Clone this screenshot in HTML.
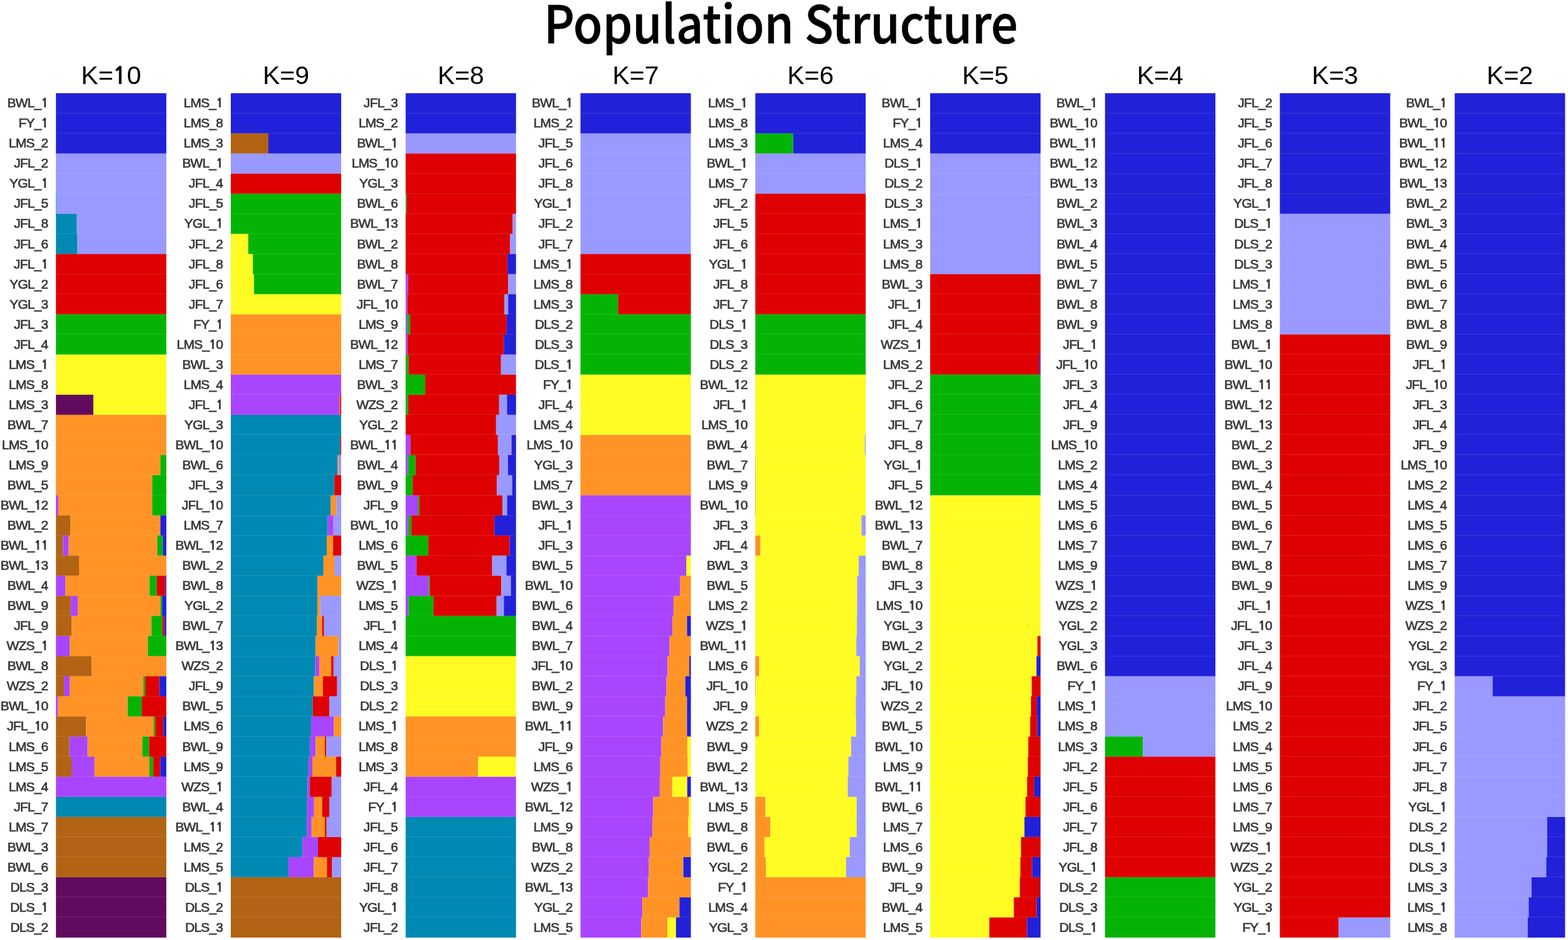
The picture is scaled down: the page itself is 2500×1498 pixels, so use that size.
<!DOCTYPE html><html><head><meta charset="utf-8"><title>Population Structure</title><style>html,body{margin:0;padding:0;background:#fff;width:2500px;height:1498px;overflow:hidden}svg{display:block}.l{font-family:"Liberation Sans",Arial,sans-serif;font-size:21px;fill:#383838;letter-spacing:-0.85px;stroke:#383838;stroke-width:0.7px}.o{font-family:NanumGothic, 'Liberation Sans', sans-serif;font-weight:bold;font-size:0.93em}.o2{font-family:NanumGothic, 'Liberation Sans', sans-serif;font-weight:bold;font-size:0.93em}.k{font-family:"Liberation Sans",Arial,sans-serif;font-size:41px;fill:#000;letter-spacing:0px}.t{font-family:"Noto Sans CJK SC", sans-serif;font-size:83px;font-weight:500;fill:#000;letter-spacing:0px;stroke:#000;stroke-width:0.7px}</style></head><body><svg width="2500" height="1498" viewBox="0 0 2500 1498"><text class="t" x="1245" y="68.8" text-anchor="middle" textLength="756" lengthAdjust="spacingAndGlyphs">Population Structure</text><text class="k" x="177.2" y="133.8" text-anchor="middle">K=<tspan class="o2" dx="-1.5">1</tspan>0</text><g><rect x="89.2" y="148.5" width="176" height="33.04" fill="#2121D9"/><rect x="89.2" y="180.54" width="176" height="33.04" fill="#2121D9"/><rect x="89.2" y="212.58" width="176" height="33.04" fill="#2121D9"/><rect x="89.2" y="244.62" width="176" height="33.04" fill="#9999FF"/><rect x="89.2" y="276.66" width="176" height="33.04" fill="#9999FF"/><rect x="89.2" y="308.7" width="1.06" height="33.04" fill="#0089B2"/><rect x="90.26" y="308.7" width="174.94" height="33.04" fill="#9999FF"/><rect x="89.2" y="340.74" width="33.44" height="33.04" fill="#0089B2"/><rect x="122.64" y="340.74" width="142.56" height="33.04" fill="#9999FF"/><rect x="89.2" y="372.78" width="34.32" height="33.04" fill="#0089B2"/><rect x="123.52" y="372.78" width="141.68" height="33.04" fill="#9999FF"/><rect x="89.2" y="404.82" width="176" height="33.04" fill="#DF0101"/><rect x="89.2" y="436.86" width="176" height="33.04" fill="#DF0101"/><rect x="89.2" y="468.9" width="176" height="33.04" fill="#DF0101"/><rect x="89.2" y="500.94" width="176" height="33.04" fill="#04B404"/><rect x="89.2" y="532.98" width="176" height="33.04" fill="#04B404"/><rect x="89.2" y="565.02" width="176" height="33.04" fill="#FFFB23"/><rect x="89.2" y="597.06" width="176" height="33.04" fill="#FFFB23"/><rect x="89.2" y="629.1" width="59.66" height="33.04" fill="#610B5E"/><rect x="148.86" y="629.1" width="116.34" height="33.04" fill="#FFFB23"/><rect x="89.2" y="661.14" width="176" height="33.04" fill="#FF9326"/><rect x="89.2" y="693.18" width="176" height="33.04" fill="#FF9326"/><rect x="89.2" y="725.22" width="166.5" height="33.04" fill="#FF9326"/><rect x="255.7" y="725.22" width="9.5" height="33.04" fill="#04B404"/><rect x="89.2" y="757.26" width="153.65" height="33.04" fill="#FF9326"/><rect x="242.85" y="757.26" width="22.35" height="33.04" fill="#04B404"/><rect x="89.2" y="789.3" width="3.7" height="33.04" fill="#A945FF"/><rect x="92.9" y="789.3" width="149.95" height="33.04" fill="#FF9326"/><rect x="242.85" y="789.3" width="22.35" height="33.04" fill="#04B404"/><rect x="89.2" y="821.34" width="22.88" height="33.04" fill="#B26314"/><rect x="112.08" y="821.34" width="143.62" height="33.04" fill="#FF9326"/><rect x="255.7" y="821.34" width="9.5" height="33.04" fill="#2121D9"/><rect x="89.2" y="853.38" width="11.26" height="33.04" fill="#B26314"/><rect x="100.46" y="853.38" width="9.15" height="33.04" fill="#A945FF"/><rect x="109.62" y="853.38" width="141.15" height="33.04" fill="#FF9326"/><rect x="250.77" y="853.38" width="8.8" height="33.04" fill="#04B404"/><rect x="259.57" y="853.38" width="5.63" height="33.04" fill="#2121D9"/><rect x="89.2" y="885.42" width="36.78" height="33.04" fill="#B26314"/><rect x="125.98" y="885.42" width="139.22" height="33.04" fill="#FF9326"/><rect x="89.2" y="917.46" width="14.96" height="33.04" fill="#A945FF"/><rect x="104.16" y="917.46" width="134.29" height="33.04" fill="#FF9326"/><rect x="238.45" y="917.46" width="11.26" height="33.04" fill="#04B404"/><rect x="249.71" y="917.46" width="13.73" height="33.04" fill="#DF0101"/><rect x="263.44" y="917.46" width="1.76" height="33.04" fill="#2121D9"/><rect x="89.2" y="949.5" width="23.58" height="33.04" fill="#B26314"/><rect x="112.78" y="949.5" width="11.09" height="33.04" fill="#A945FF"/><rect x="123.87" y="949.5" width="132" height="33.04" fill="#FF9326"/><rect x="255.87" y="949.5" width="2.46" height="33.04" fill="#04B404"/><rect x="258.34" y="949.5" width="6.86" height="33.04" fill="#2121D9"/><rect x="89.2" y="981.54" width="25.17" height="33.04" fill="#B26314"/><rect x="114.37" y="981.54" width="127.07" height="33.04" fill="#FF9326"/><rect x="241.44" y="981.54" width="17.42" height="33.04" fill="#04B404"/><rect x="258.86" y="981.54" width="3.34" height="33.04" fill="#DF0101"/><rect x="262.21" y="981.54" width="2.99" height="33.04" fill="#2121D9"/><rect x="89.2" y="1013.58" width="22" height="33.04" fill="#A945FF"/><rect x="111.2" y="1013.58" width="124.61" height="33.04" fill="#FF9326"/><rect x="235.81" y="1013.58" width="29.39" height="33.04" fill="#04B404"/><rect x="89.2" y="1045.62" width="56.67" height="33.04" fill="#B26314"/><rect x="145.87" y="1045.62" width="119.33" height="33.04" fill="#FF9326"/><rect x="89.2" y="1077.66" width="12.85" height="33.04" fill="#B26314"/><rect x="102.05" y="1077.66" width="9.15" height="33.04" fill="#A945FF"/><rect x="111.2" y="1077.66" width="117.22" height="33.04" fill="#FF9326"/><rect x="228.42" y="1077.66" width="2.99" height="33.04" fill="#04B404"/><rect x="231.41" y="1077.66" width="22.88" height="33.04" fill="#DF0101"/><rect x="254.29" y="1077.66" width="10.91" height="33.04" fill="#2121D9"/><rect x="89.2" y="1109.7" width="3.34" height="33.04" fill="#A945FF"/><rect x="92.54" y="1109.7" width="111.06" height="33.04" fill="#FF9326"/><rect x="203.6" y="1109.7" width="22.35" height="33.04" fill="#04B404"/><rect x="225.95" y="1109.7" width="39.25" height="33.04" fill="#DF0101"/><rect x="89.2" y="1141.74" width="48.05" height="33.04" fill="#B26314"/><rect x="137.25" y="1141.74" width="107.71" height="33.04" fill="#FF9326"/><rect x="244.96" y="1141.74" width="2.46" height="33.04" fill="#04B404"/><rect x="247.42" y="1141.74" width="12.85" height="33.04" fill="#DF0101"/><rect x="260.27" y="1141.74" width="4.93" height="33.04" fill="#2121D9"/><rect x="89.2" y="1173.78" width="21.47" height="33.04" fill="#B26314"/><rect x="110.67" y="1173.78" width="29.04" height="33.04" fill="#A945FF"/><rect x="139.71" y="1173.78" width="87.47" height="33.04" fill="#FF9326"/><rect x="227.18" y="1173.78" width="10.38" height="33.04" fill="#04B404"/><rect x="237.57" y="1173.78" width="27.63" height="33.04" fill="#DF0101"/><rect x="89.2" y="1205.82" width="24.82" height="33.04" fill="#B26314"/><rect x="114.02" y="1205.82" width="36.78" height="33.04" fill="#A945FF"/><rect x="150.8" y="1205.82" width="87.3" height="33.04" fill="#FF9326"/><rect x="238.1" y="1205.82" width="6.16" height="33.04" fill="#04B404"/><rect x="244.26" y="1205.82" width="11.26" height="33.04" fill="#DF0101"/><rect x="255.52" y="1205.82" width="9.68" height="33.04" fill="#2121D9"/><rect x="89.2" y="1237.86" width="176" height="33.04" fill="#A945FF"/><rect x="89.2" y="1269.9" width="176" height="33.04" fill="#0089B2"/><rect x="89.2" y="1301.94" width="176" height="33.04" fill="#B26314"/><rect x="89.2" y="1333.98" width="176" height="33.04" fill="#B26314"/><rect x="89.2" y="1366.02" width="176" height="33.04" fill="#B26314"/><rect x="89.2" y="1398.06" width="176" height="33.04" fill="#610B5E"/><rect x="89.2" y="1430.1" width="176" height="33.04" fill="#610B5E"/><rect x="89.2" y="1462.14" width="176" height="32.04" fill="#610B5E"/><rect x="89.2" y="180" width="176" height="1" fill="#fff" fill-opacity="0.12"/><rect x="89.2" y="212" width="176" height="1" fill="#fff" fill-opacity="0.12"/><rect x="89.2" y="244" width="176" height="1" fill="#fff" fill-opacity="0.12"/><rect x="89.2" y="276" width="176" height="1" fill="#fff" fill-opacity="0.12"/><rect x="89.2" y="308" width="176" height="1" fill="#fff" fill-opacity="0.12"/><rect x="89.2" y="340" width="176" height="1" fill="#fff" fill-opacity="0.12"/><rect x="89.2" y="372" width="176" height="1" fill="#fff" fill-opacity="0.12"/><rect x="89.2" y="404" width="176" height="1" fill="#fff" fill-opacity="0.12"/><rect x="89.2" y="436" width="176" height="1" fill="#fff" fill-opacity="0.12"/><rect x="89.2" y="468" width="176" height="1" fill="#fff" fill-opacity="0.12"/><rect x="89.2" y="500" width="176" height="1" fill="#fff" fill-opacity="0.12"/><rect x="89.2" y="532" width="176" height="1" fill="#fff" fill-opacity="0.12"/><rect x="89.2" y="564" width="176" height="1" fill="#fff" fill-opacity="0.12"/><rect x="89.2" y="596" width="176" height="1" fill="#fff" fill-opacity="0.12"/><rect x="89.2" y="628" width="176" height="1" fill="#fff" fill-opacity="0.12"/><rect x="89.2" y="660" width="176" height="1" fill="#fff" fill-opacity="0.12"/><rect x="89.2" y="692" width="176" height="1" fill="#fff" fill-opacity="0.12"/><rect x="89.2" y="724" width="176" height="1" fill="#fff" fill-opacity="0.12"/><rect x="89.2" y="756" width="176" height="1" fill="#fff" fill-opacity="0.12"/><rect x="89.2" y="789" width="176" height="1" fill="#fff" fill-opacity="0.12"/><rect x="89.2" y="821" width="176" height="1" fill="#fff" fill-opacity="0.12"/><rect x="89.2" y="853" width="176" height="1" fill="#fff" fill-opacity="0.12"/><rect x="89.2" y="885" width="176" height="1" fill="#fff" fill-opacity="0.12"/><rect x="89.2" y="917" width="176" height="1" fill="#fff" fill-opacity="0.12"/><rect x="89.2" y="949" width="176" height="1" fill="#fff" fill-opacity="0.12"/><rect x="89.2" y="981" width="176" height="1" fill="#fff" fill-opacity="0.12"/><rect x="89.2" y="1013" width="176" height="1" fill="#fff" fill-opacity="0.12"/><rect x="89.2" y="1045" width="176" height="1" fill="#fff" fill-opacity="0.12"/><rect x="89.2" y="1077" width="176" height="1" fill="#fff" fill-opacity="0.12"/><rect x="89.2" y="1109" width="176" height="1" fill="#fff" fill-opacity="0.12"/><rect x="89.2" y="1141" width="176" height="1" fill="#fff" fill-opacity="0.12"/><rect x="89.2" y="1173" width="176" height="1" fill="#fff" fill-opacity="0.12"/><rect x="89.2" y="1205" width="176" height="1" fill="#fff" fill-opacity="0.12"/><rect x="89.2" y="1237" width="176" height="1" fill="#fff" fill-opacity="0.12"/><rect x="89.2" y="1269" width="176" height="1" fill="#fff" fill-opacity="0.12"/><rect x="89.2" y="1301" width="176" height="1" fill="#fff" fill-opacity="0.12"/><rect x="89.2" y="1333" width="176" height="1" fill="#fff" fill-opacity="0.12"/><rect x="89.2" y="1365" width="176" height="1" fill="#fff" fill-opacity="0.12"/><rect x="89.2" y="1397" width="176" height="1" fill="#fff" fill-opacity="0.12"/><rect x="89.2" y="1429" width="176" height="1" fill="#fff" fill-opacity="0.12"/><rect x="89.2" y="1461" width="176" height="1" fill="#fff" fill-opacity="0.12"/></g><text class="l" x="76.4" y="171.22" text-anchor="end">BWL_<tspan class="o">1</tspan></text><text class="l" x="76.4" y="203.26" text-anchor="end">FY_<tspan class="o">1</tspan></text><text class="l" x="76.4" y="235.3" text-anchor="end">LMS_2</text><text class="l" x="76.4" y="267.34" text-anchor="end">JFL_2</text><text class="l" x="76.4" y="299.38" text-anchor="end">YGL_<tspan class="o">1</tspan></text><text class="l" x="76.4" y="331.42" text-anchor="end">JFL_5</text><text class="l" x="76.4" y="363.46" text-anchor="end">JFL_8</text><text class="l" x="76.4" y="395.5" text-anchor="end">JFL_6</text><text class="l" x="76.4" y="427.54" text-anchor="end">JFL_<tspan class="o">1</tspan></text><text class="l" x="76.4" y="459.58" text-anchor="end">YGL_2</text><text class="l" x="76.4" y="491.62" text-anchor="end">YGL_3</text><text class="l" x="76.4" y="523.66" text-anchor="end">JFL_3</text><text class="l" x="76.4" y="555.7" text-anchor="end">JFL_4</text><text class="l" x="76.4" y="587.74" text-anchor="end">LMS_<tspan class="o">1</tspan></text><text class="l" x="76.4" y="619.78" text-anchor="end">LMS_8</text><text class="l" x="76.4" y="651.82" text-anchor="end">LMS_3</text><text class="l" x="76.4" y="683.86" text-anchor="end">BWL_7</text><text class="l" x="76.4" y="715.9" text-anchor="end">LMS_<tspan class="o">1</tspan>0</text><text class="l" x="76.4" y="747.94" text-anchor="end">LMS_9</text><text class="l" x="76.4" y="779.98" text-anchor="end">BWL_5</text><text class="l" x="76.4" y="812.02" text-anchor="end">BWL_<tspan class="o">1</tspan>2</text><text class="l" x="76.4" y="844.06" text-anchor="end">BWL_2</text><text class="l" x="76.4" y="876.1" text-anchor="end">BWL_<tspan class="o">1</tspan><tspan class="o">1</tspan></text><text class="l" x="76.4" y="908.14" text-anchor="end">BWL_<tspan class="o">1</tspan>3</text><text class="l" x="76.4" y="940.18" text-anchor="end">BWL_4</text><text class="l" x="76.4" y="972.22" text-anchor="end">BWL_9</text><text class="l" x="76.4" y="1004.26" text-anchor="end">JFL_9</text><text class="l" x="76.4" y="1036.3" text-anchor="end">WZS_<tspan class="o">1</tspan></text><text class="l" x="76.4" y="1068.34" text-anchor="end">BWL_8</text><text class="l" x="76.4" y="1100.38" text-anchor="end">WZS_2</text><text class="l" x="76.4" y="1132.42" text-anchor="end">BWL_<tspan class="o">1</tspan>0</text><text class="l" x="76.4" y="1164.46" text-anchor="end">JFL_<tspan class="o">1</tspan>0</text><text class="l" x="76.4" y="1196.5" text-anchor="end">LMS_6</text><text class="l" x="76.4" y="1228.54" text-anchor="end">LMS_5</text><text class="l" x="76.4" y="1260.58" text-anchor="end">LMS_4</text><text class="l" x="76.4" y="1292.62" text-anchor="end">JFL_7</text><text class="l" x="76.4" y="1324.66" text-anchor="end">LMS_7</text><text class="l" x="76.4" y="1356.7" text-anchor="end">BWL_3</text><text class="l" x="76.4" y="1388.74" text-anchor="end">BWL_6</text><text class="l" x="76.4" y="1420.78" text-anchor="end">DLS_3</text><text class="l" x="76.4" y="1452.82" text-anchor="end">DLS_<tspan class="o">1</tspan></text><text class="l" x="76.4" y="1484.86" text-anchor="end">DLS_2</text><text class="k" x="455.97" y="133.8" text-anchor="middle">K=9</text><g><rect x="367.97" y="148.5" width="176" height="33.04" fill="#2121D9"/><rect x="367.97" y="180.54" width="176" height="33.04" fill="#2121D9"/><rect x="367.97" y="212.58" width="60.02" height="33.04" fill="#B26314"/><rect x="427.99" y="212.58" width="115.98" height="33.04" fill="#2121D9"/><rect x="367.97" y="244.62" width="176" height="33.04" fill="#9999FF"/><rect x="367.97" y="276.66" width="176" height="33.04" fill="#DF0101"/><rect x="367.97" y="308.7" width="176" height="33.04" fill="#04B404"/><rect x="367.97" y="340.74" width="176" height="33.04" fill="#04B404"/><rect x="367.97" y="372.78" width="27.81" height="33.04" fill="#FFFB23"/><rect x="395.78" y="372.78" width="148.19" height="33.04" fill="#04B404"/><rect x="367.97" y="404.82" width="35.2" height="33.04" fill="#FFFB23"/><rect x="403.17" y="404.82" width="140.8" height="33.04" fill="#04B404"/><rect x="367.97" y="436.86" width="36.96" height="33.04" fill="#FFFB23"/><rect x="404.93" y="436.86" width="139.04" height="33.04" fill="#04B404"/><rect x="367.97" y="468.9" width="176" height="33.04" fill="#FFFB23"/><rect x="367.97" y="500.94" width="176" height="33.04" fill="#FF9326"/><rect x="367.97" y="532.98" width="176" height="33.04" fill="#FF9326"/><rect x="367.97" y="565.02" width="176" height="33.04" fill="#FF9326"/><rect x="367.97" y="597.06" width="176" height="33.04" fill="#A945FF"/><rect x="367.97" y="629.1" width="173.01" height="33.04" fill="#A945FF"/><rect x="540.98" y="629.1" width="1.23" height="33.04" fill="#FF9326"/><rect x="542.21" y="629.1" width="1.76" height="33.04" fill="#DF0101"/><rect x="367.97" y="661.14" width="176" height="33.04" fill="#0089B2"/><rect x="367.97" y="693.18" width="174.77" height="33.04" fill="#0089B2"/><rect x="542.74" y="693.18" width="1.23" height="33.04" fill="#DF0101"/><rect x="367.97" y="725.22" width="170.19" height="33.04" fill="#0089B2"/><rect x="538.16" y="725.22" width="1.76" height="33.04" fill="#FF9326"/><rect x="539.92" y="725.22" width="4.05" height="33.04" fill="#9999FF"/><rect x="367.97" y="757.26" width="165.26" height="33.04" fill="#0089B2"/><rect x="533.23" y="757.26" width="10.74" height="33.04" fill="#DF0101"/><rect x="367.97" y="789.3" width="159.46" height="33.04" fill="#0089B2"/><rect x="527.43" y="789.3" width="9.15" height="33.04" fill="#FF9326"/><rect x="536.58" y="789.3" width="7.39" height="33.04" fill="#9999FF"/><rect x="367.97" y="821.34" width="154.53" height="33.04" fill="#0089B2"/><rect x="522.5" y="821.34" width="9.15" height="33.04" fill="#A945FF"/><rect x="531.65" y="821.34" width="12.32" height="33.04" fill="#9999FF"/><rect x="367.97" y="853.38" width="153.12" height="33.04" fill="#0089B2"/><rect x="521.09" y="853.38" width="10.03" height="33.04" fill="#FF9326"/><rect x="531.12" y="853.38" width="12.85" height="33.04" fill="#DF0101"/><rect x="367.97" y="885.42" width="147.84" height="33.04" fill="#0089B2"/><rect x="515.81" y="885.42" width="17.42" height="33.04" fill="#FF9326"/><rect x="533.23" y="885.42" width="10.74" height="33.04" fill="#9999FF"/><rect x="367.97" y="917.46" width="137.98" height="33.04" fill="#0089B2"/><rect x="505.95" y="917.46" width="38.02" height="33.04" fill="#FF9326"/><rect x="367.97" y="949.5" width="137.98" height="33.04" fill="#0089B2"/><rect x="505.95" y="949.5" width="4.58" height="33.04" fill="#FF9326"/><rect x="510.53" y="949.5" width="33.44" height="33.04" fill="#9999FF"/><rect x="367.97" y="981.54" width="137.1" height="33.04" fill="#0089B2"/><rect x="505.07" y="981.54" width="8.62" height="33.04" fill="#FF9326"/><rect x="513.7" y="981.54" width="2.99" height="33.04" fill="#DF0101"/><rect x="516.69" y="981.54" width="27.28" height="33.04" fill="#9999FF"/><rect x="367.97" y="1013.58" width="135.34" height="33.04" fill="#0089B2"/><rect x="503.31" y="1013.58" width="36.43" height="33.04" fill="#FF9326"/><rect x="539.75" y="1013.58" width="4.22" height="33.04" fill="#9999FF"/><rect x="367.97" y="1045.62" width="134.64" height="33.04" fill="#0089B2"/><rect x="502.61" y="1045.62" width="6.51" height="33.04" fill="#A945FF"/><rect x="509.12" y="1045.62" width="19.01" height="33.04" fill="#FF9326"/><rect x="528.13" y="1045.62" width="3.7" height="33.04" fill="#DF0101"/><rect x="531.83" y="1045.62" width="12.14" height="33.04" fill="#9999FF"/><rect x="367.97" y="1077.66" width="132.53" height="33.04" fill="#0089B2"/><rect x="500.5" y="1077.66" width="14.43" height="33.04" fill="#FF9326"/><rect x="514.93" y="1077.66" width="22.7" height="33.04" fill="#DF0101"/><rect x="537.63" y="1077.66" width="6.34" height="33.04" fill="#9999FF"/><rect x="367.97" y="1109.7" width="130.77" height="33.04" fill="#0089B2"/><rect x="498.74" y="1109.7" width="26.58" height="33.04" fill="#DF0101"/><rect x="525.31" y="1109.7" width="18.66" height="33.04" fill="#9999FF"/><rect x="367.97" y="1141.74" width="127.95" height="33.04" fill="#0089B2"/><rect x="495.92" y="1141.74" width="36.43" height="33.04" fill="#A945FF"/><rect x="532.35" y="1141.74" width="11.62" height="33.04" fill="#FF9326"/><rect x="367.97" y="1173.78" width="126.19" height="33.04" fill="#0089B2"/><rect x="494.16" y="1173.78" width="9.15" height="33.04" fill="#A945FF"/><rect x="503.31" y="1173.78" width="14.61" height="33.04" fill="#FF9326"/><rect x="517.92" y="1173.78" width="2.46" height="33.04" fill="#DF0101"/><rect x="520.39" y="1173.78" width="23.58" height="33.04" fill="#9999FF"/><rect x="367.97" y="1205.82" width="123.9" height="33.04" fill="#0089B2"/><rect x="491.87" y="1205.82" width="6.16" height="33.04" fill="#A945FF"/><rect x="498.03" y="1205.82" width="38.02" height="33.04" fill="#FF9326"/><rect x="536.05" y="1205.82" width="7.92" height="33.04" fill="#DF0101"/><rect x="367.97" y="1237.86" width="122.5" height="33.04" fill="#0089B2"/><rect x="490.47" y="1237.86" width="3.7" height="33.04" fill="#A945FF"/><rect x="494.16" y="1237.86" width="34.67" height="33.04" fill="#DF0101"/><rect x="528.83" y="1237.86" width="15.14" height="33.04" fill="#9999FF"/><rect x="367.97" y="1269.9" width="121.79" height="33.04" fill="#0089B2"/><rect x="489.76" y="1269.9" width="11.09" height="33.04" fill="#A945FF"/><rect x="500.85" y="1269.9" width="12.85" height="33.04" fill="#FF9326"/><rect x="513.7" y="1269.9" width="11.26" height="33.04" fill="#DF0101"/><rect x="524.96" y="1269.9" width="19.01" height="33.04" fill="#9999FF"/><rect x="367.97" y="1301.94" width="121.26" height="33.04" fill="#0089B2"/><rect x="489.23" y="1301.94" width="7.57" height="33.04" fill="#A945FF"/><rect x="496.8" y="1301.94" width="21.12" height="33.04" fill="#FF9326"/><rect x="517.92" y="1301.94" width="2.82" height="33.04" fill="#DF0101"/><rect x="520.74" y="1301.94" width="23.23" height="33.04" fill="#9999FF"/><rect x="367.97" y="1333.98" width="114.22" height="33.04" fill="#0089B2"/><rect x="482.19" y="1333.98" width="24.82" height="33.04" fill="#A945FF"/><rect x="507.01" y="1333.98" width="36.96" height="33.04" fill="#DF0101"/><rect x="367.97" y="1366.02" width="91.87" height="33.04" fill="#0089B2"/><rect x="459.84" y="1366.02" width="40.66" height="33.04" fill="#A945FF"/><rect x="500.5" y="1366.02" width="20.77" height="33.04" fill="#FF9326"/><rect x="521.27" y="1366.02" width="8.27" height="33.04" fill="#DF0101"/><rect x="529.54" y="1366.02" width="14.43" height="33.04" fill="#9999FF"/><rect x="367.97" y="1398.06" width="176" height="33.04" fill="#B26314"/><rect x="367.97" y="1430.1" width="176" height="33.04" fill="#B26314"/><rect x="367.97" y="1462.14" width="176" height="32.04" fill="#B26314"/><rect x="367.97" y="180" width="176" height="1" fill="#fff" fill-opacity="0.12"/><rect x="367.97" y="212" width="176" height="1" fill="#fff" fill-opacity="0.12"/><rect x="367.97" y="244" width="176" height="1" fill="#fff" fill-opacity="0.12"/><rect x="367.97" y="276" width="176" height="1" fill="#fff" fill-opacity="0.12"/><rect x="367.97" y="308" width="176" height="1" fill="#fff" fill-opacity="0.12"/><rect x="367.97" y="340" width="176" height="1" fill="#fff" fill-opacity="0.12"/><rect x="367.97" y="372" width="176" height="1" fill="#fff" fill-opacity="0.12"/><rect x="367.97" y="404" width="176" height="1" fill="#fff" fill-opacity="0.12"/><rect x="367.97" y="436" width="176" height="1" fill="#fff" fill-opacity="0.12"/><rect x="367.97" y="468" width="176" height="1" fill="#fff" fill-opacity="0.12"/><rect x="367.97" y="500" width="176" height="1" fill="#fff" fill-opacity="0.12"/><rect x="367.97" y="532" width="176" height="1" fill="#fff" fill-opacity="0.12"/><rect x="367.97" y="564" width="176" height="1" fill="#fff" fill-opacity="0.12"/><rect x="367.97" y="596" width="176" height="1" fill="#fff" fill-opacity="0.12"/><rect x="367.97" y="628" width="176" height="1" fill="#fff" fill-opacity="0.12"/><rect x="367.97" y="660" width="176" height="1" fill="#fff" fill-opacity="0.12"/><rect x="367.97" y="692" width="176" height="1" fill="#fff" fill-opacity="0.12"/><rect x="367.97" y="724" width="176" height="1" fill="#fff" fill-opacity="0.12"/><rect x="367.97" y="756" width="176" height="1" fill="#fff" fill-opacity="0.12"/><rect x="367.97" y="789" width="176" height="1" fill="#fff" fill-opacity="0.12"/><rect x="367.97" y="821" width="176" height="1" fill="#fff" fill-opacity="0.12"/><rect x="367.97" y="853" width="176" height="1" fill="#fff" fill-opacity="0.12"/><rect x="367.97" y="885" width="176" height="1" fill="#fff" fill-opacity="0.12"/><rect x="367.97" y="917" width="176" height="1" fill="#fff" fill-opacity="0.12"/><rect x="367.97" y="949" width="176" height="1" fill="#fff" fill-opacity="0.12"/><rect x="367.97" y="981" width="176" height="1" fill="#fff" fill-opacity="0.12"/><rect x="367.97" y="1013" width="176" height="1" fill="#fff" fill-opacity="0.12"/><rect x="367.97" y="1045" width="176" height="1" fill="#fff" fill-opacity="0.12"/><rect x="367.97" y="1077" width="176" height="1" fill="#fff" fill-opacity="0.12"/><rect x="367.97" y="1109" width="176" height="1" fill="#fff" fill-opacity="0.12"/><rect x="367.97" y="1141" width="176" height="1" fill="#fff" fill-opacity="0.12"/><rect x="367.97" y="1173" width="176" height="1" fill="#fff" fill-opacity="0.12"/><rect x="367.97" y="1205" width="176" height="1" fill="#fff" fill-opacity="0.12"/><rect x="367.97" y="1237" width="176" height="1" fill="#fff" fill-opacity="0.12"/><rect x="367.97" y="1269" width="176" height="1" fill="#fff" fill-opacity="0.12"/><rect x="367.97" y="1301" width="176" height="1" fill="#fff" fill-opacity="0.12"/><rect x="367.97" y="1333" width="176" height="1" fill="#fff" fill-opacity="0.12"/><rect x="367.97" y="1365" width="176" height="1" fill="#fff" fill-opacity="0.12"/><rect x="367.97" y="1397" width="176" height="1" fill="#fff" fill-opacity="0.12"/><rect x="367.97" y="1429" width="176" height="1" fill="#fff" fill-opacity="0.12"/><rect x="367.97" y="1461" width="176" height="1" fill="#fff" fill-opacity="0.12"/></g><text class="l" x="355.17" y="171.22" text-anchor="end">LMS_<tspan class="o">1</tspan></text><text class="l" x="355.17" y="203.26" text-anchor="end">LMS_8</text><text class="l" x="355.17" y="235.3" text-anchor="end">LMS_3</text><text class="l" x="355.17" y="267.34" text-anchor="end">BWL_<tspan class="o">1</tspan></text><text class="l" x="355.17" y="299.38" text-anchor="end">JFL_4</text><text class="l" x="355.17" y="331.42" text-anchor="end">JFL_5</text><text class="l" x="355.17" y="363.46" text-anchor="end">YGL_<tspan class="o">1</tspan></text><text class="l" x="355.17" y="395.5" text-anchor="end">JFL_2</text><text class="l" x="355.17" y="427.54" text-anchor="end">JFL_8</text><text class="l" x="355.17" y="459.58" text-anchor="end">JFL_6</text><text class="l" x="355.17" y="491.62" text-anchor="end">JFL_7</text><text class="l" x="355.17" y="523.66" text-anchor="end">FY_<tspan class="o">1</tspan></text><text class="l" x="355.17" y="555.7" text-anchor="end">LMS_<tspan class="o">1</tspan>0</text><text class="l" x="355.17" y="587.74" text-anchor="end">BWL_3</text><text class="l" x="355.17" y="619.78" text-anchor="end">LMS_4</text><text class="l" x="355.17" y="651.82" text-anchor="end">JFL_<tspan class="o">1</tspan></text><text class="l" x="355.17" y="683.86" text-anchor="end">YGL_3</text><text class="l" x="355.17" y="715.9" text-anchor="end">BWL_<tspan class="o">1</tspan>0</text><text class="l" x="355.17" y="747.94" text-anchor="end">BWL_6</text><text class="l" x="355.17" y="779.98" text-anchor="end">JFL_3</text><text class="l" x="355.17" y="812.02" text-anchor="end">JFL_<tspan class="o">1</tspan>0</text><text class="l" x="355.17" y="844.06" text-anchor="end">LMS_7</text><text class="l" x="355.17" y="876.1" text-anchor="end">BWL_<tspan class="o">1</tspan>2</text><text class="l" x="355.17" y="908.14" text-anchor="end">BWL_2</text><text class="l" x="355.17" y="940.18" text-anchor="end">BWL_8</text><text class="l" x="355.17" y="972.22" text-anchor="end">YGL_2</text><text class="l" x="355.17" y="1004.26" text-anchor="end">BWL_7</text><text class="l" x="355.17" y="1036.3" text-anchor="end">BWL_<tspan class="o">1</tspan>3</text><text class="l" x="355.17" y="1068.34" text-anchor="end">WZS_2</text><text class="l" x="355.17" y="1100.38" text-anchor="end">JFL_9</text><text class="l" x="355.17" y="1132.42" text-anchor="end">BWL_5</text><text class="l" x="355.17" y="1164.46" text-anchor="end">LMS_6</text><text class="l" x="355.17" y="1196.5" text-anchor="end">BWL_9</text><text class="l" x="355.17" y="1228.54" text-anchor="end">LMS_9</text><text class="l" x="355.17" y="1260.58" text-anchor="end">WZS_<tspan class="o">1</tspan></text><text class="l" x="355.17" y="1292.62" text-anchor="end">BWL_4</text><text class="l" x="355.17" y="1324.66" text-anchor="end">BWL_<tspan class="o">1</tspan><tspan class="o">1</tspan></text><text class="l" x="355.17" y="1356.7" text-anchor="end">LMS_2</text><text class="l" x="355.17" y="1388.74" text-anchor="end">LMS_5</text><text class="l" x="355.17" y="1420.78" text-anchor="end">DLS_<tspan class="o">1</tspan></text><text class="l" x="355.17" y="1452.82" text-anchor="end">DLS_2</text><text class="l" x="355.17" y="1484.86" text-anchor="end">DLS_3</text><text class="k" x="734.74" y="133.8" text-anchor="middle">K=8</text><g><rect x="646.74" y="148.5" width="176" height="33.04" fill="#2121D9"/><rect x="646.74" y="180.54" width="176" height="33.04" fill="#2121D9"/><rect x="646.74" y="212.58" width="176" height="33.04" fill="#9999FF"/><rect x="646.74" y="244.62" width="176" height="33.04" fill="#DF0101"/><rect x="646.74" y="276.66" width="176" height="33.04" fill="#DF0101"/><rect x="646.74" y="308.7" width="1.58" height="33.04" fill="#04B404"/><rect x="648.32" y="308.7" width="174.42" height="33.04" fill="#DF0101"/><rect x="646.74" y="340.74" width="170.72" height="33.04" fill="#DF0101"/><rect x="817.46" y="340.74" width="5.28" height="33.04" fill="#9999FF"/><rect x="646.74" y="372.78" width="166.5" height="33.04" fill="#DF0101"/><rect x="813.24" y="372.78" width="9.5" height="33.04" fill="#9999FF"/><rect x="646.74" y="404.82" width="162.45" height="33.04" fill="#DF0101"/><rect x="809.19" y="404.82" width="13.55" height="33.04" fill="#2121D9"/><rect x="646.74" y="436.86" width="4.05" height="33.04" fill="#A945FF"/><rect x="650.79" y="436.86" width="159.46" height="33.04" fill="#DF0101"/><rect x="810.24" y="436.86" width="12.5" height="33.04" fill="#9999FF"/><rect x="646.74" y="468.9" width="2.82" height="33.04" fill="#A945FF"/><rect x="649.56" y="468.9" width="154.53" height="33.04" fill="#DF0101"/><rect x="804.08" y="468.9" width="6.16" height="33.04" fill="#9999FF"/><rect x="810.24" y="468.9" width="12.5" height="33.04" fill="#2121D9"/><rect x="646.74" y="500.94" width="2.46" height="33.04" fill="#A945FF"/><rect x="649.2" y="500.94" width="4.58" height="33.04" fill="#04B404"/><rect x="653.78" y="500.94" width="154" height="33.04" fill="#DF0101"/><rect x="807.78" y="500.94" width="14.96" height="33.04" fill="#2121D9"/><rect x="646.74" y="532.98" width="2.99" height="33.04" fill="#A945FF"/><rect x="649.73" y="532.98" width="153.65" height="33.04" fill="#DF0101"/><rect x="803.38" y="532.98" width="19.36" height="33.04" fill="#2121D9"/><rect x="646.74" y="565.02" width="4.58" height="33.04" fill="#04B404"/><rect x="651.32" y="565.02" width="147.49" height="33.04" fill="#DF0101"/><rect x="798.8" y="565.02" width="23.94" height="33.04" fill="#9999FF"/><rect x="646.74" y="597.06" width="31.15" height="33.04" fill="#04B404"/><rect x="677.89" y="597.06" width="144.85" height="33.04" fill="#DF0101"/><rect x="646.74" y="629.1" width="4.05" height="33.04" fill="#04B404"/><rect x="650.79" y="629.1" width="145.02" height="33.04" fill="#DF0101"/><rect x="795.81" y="629.1" width="12.5" height="33.04" fill="#9999FF"/><rect x="808.31" y="629.1" width="14.43" height="33.04" fill="#2121D9"/><rect x="646.74" y="661.14" width="144.14" height="33.04" fill="#DF0101"/><rect x="790.88" y="661.14" width="31.86" height="33.04" fill="#9999FF"/><rect x="646.74" y="693.18" width="7.57" height="33.04" fill="#A945FF"/><rect x="654.31" y="693.18" width="139.57" height="33.04" fill="#DF0101"/><rect x="793.88" y="693.18" width="21.65" height="33.04" fill="#9999FF"/><rect x="815.52" y="693.18" width="7.22" height="33.04" fill="#2121D9"/><rect x="646.74" y="725.22" width="3.7" height="33.04" fill="#A945FF"/><rect x="650.44" y="725.22" width="11.97" height="33.04" fill="#04B404"/><rect x="662.4" y="725.22" width="133.76" height="33.04" fill="#DF0101"/><rect x="796.16" y="725.22" width="13.73" height="33.04" fill="#9999FF"/><rect x="809.89" y="725.22" width="12.85" height="33.04" fill="#2121D9"/><rect x="646.74" y="757.26" width="11.09" height="33.04" fill="#04B404"/><rect x="657.83" y="757.26" width="134.29" height="33.04" fill="#DF0101"/><rect x="792.12" y="757.26" width="24.46" height="33.04" fill="#9999FF"/><rect x="816.58" y="757.26" width="6.16" height="33.04" fill="#2121D9"/><rect x="646.74" y="789.3" width="19.36" height="33.04" fill="#A945FF"/><rect x="666.1" y="789.3" width="2.46" height="33.04" fill="#04B404"/><rect x="668.56" y="789.3" width="132.53" height="33.04" fill="#DF0101"/><rect x="801.09" y="789.3" width="7.39" height="33.04" fill="#9999FF"/><rect x="808.48" y="789.3" width="14.26" height="33.04" fill="#2121D9"/><rect x="646.74" y="821.34" width="4.05" height="33.04" fill="#A945FF"/><rect x="650.79" y="821.34" width="4.93" height="33.04" fill="#04B404"/><rect x="655.72" y="821.34" width="132.53" height="33.04" fill="#DF0101"/><rect x="788.24" y="821.34" width="34.5" height="33.04" fill="#2121D9"/><rect x="646.74" y="853.38" width="36.08" height="33.04" fill="#04B404"/><rect x="682.82" y="853.38" width="129.71" height="33.04" fill="#DF0101"/><rect x="812.53" y="853.38" width="10.21" height="33.04" fill="#2121D9"/><rect x="646.74" y="885.42" width="17.42" height="33.04" fill="#A945FF"/><rect x="664.16" y="885.42" width="120.56" height="33.04" fill="#DF0101"/><rect x="784.72" y="885.42" width="22.7" height="33.04" fill="#9999FF"/><rect x="807.43" y="885.42" width="15.31" height="33.04" fill="#2121D9"/><rect x="646.74" y="917.46" width="36.78" height="33.04" fill="#A945FF"/><rect x="683.52" y="917.46" width="1.76" height="33.04" fill="#04B404"/><rect x="685.28" y="917.46" width="113.87" height="33.04" fill="#DF0101"/><rect x="799.16" y="917.46" width="15.31" height="33.04" fill="#9999FF"/><rect x="814.47" y="917.46" width="8.27" height="33.04" fill="#2121D9"/><rect x="646.74" y="949.5" width="4.58" height="33.04" fill="#A945FF"/><rect x="651.32" y="949.5" width="39.78" height="33.04" fill="#04B404"/><rect x="691.09" y="949.5" width="100.67" height="33.04" fill="#DF0101"/><rect x="791.76" y="949.5" width="11.62" height="33.04" fill="#9999FF"/><rect x="803.38" y="949.5" width="19.36" height="33.04" fill="#2121D9"/><rect x="646.74" y="981.54" width="176" height="33.04" fill="#04B404"/><rect x="646.74" y="1013.58" width="176" height="33.04" fill="#04B404"/><rect x="646.74" y="1045.62" width="176" height="33.04" fill="#FFFB23"/><rect x="646.74" y="1077.66" width="176" height="33.04" fill="#FFFB23"/><rect x="646.74" y="1109.7" width="176" height="33.04" fill="#FFFB23"/><rect x="646.74" y="1141.74" width="176" height="33.04" fill="#FF9326"/><rect x="646.74" y="1173.78" width="176" height="33.04" fill="#FF9326"/><rect x="646.74" y="1205.82" width="115.63" height="33.04" fill="#FF9326"/><rect x="762.37" y="1205.82" width="60.37" height="33.04" fill="#FFFB23"/><rect x="646.74" y="1237.86" width="176" height="33.04" fill="#A945FF"/><rect x="646.74" y="1269.9" width="176" height="33.04" fill="#A945FF"/><rect x="646.74" y="1301.94" width="176" height="33.04" fill="#0089B2"/><rect x="646.74" y="1333.98" width="176" height="33.04" fill="#0089B2"/><rect x="646.74" y="1366.02" width="176" height="33.04" fill="#0089B2"/><rect x="646.74" y="1398.06" width="176" height="33.04" fill="#0089B2"/><rect x="646.74" y="1430.1" width="176" height="33.04" fill="#0089B2"/><rect x="646.74" y="1462.14" width="176" height="32.04" fill="#0089B2"/><rect x="646.74" y="180" width="176" height="1" fill="#fff" fill-opacity="0.12"/><rect x="646.74" y="212" width="176" height="1" fill="#fff" fill-opacity="0.12"/><rect x="646.74" y="244" width="176" height="1" fill="#fff" fill-opacity="0.12"/><rect x="646.74" y="276" width="176" height="1" fill="#fff" fill-opacity="0.12"/><rect x="646.74" y="308" width="176" height="1" fill="#fff" fill-opacity="0.12"/><rect x="646.74" y="340" width="176" height="1" fill="#fff" fill-opacity="0.12"/><rect x="646.74" y="372" width="176" height="1" fill="#fff" fill-opacity="0.12"/><rect x="646.74" y="404" width="176" height="1" fill="#fff" fill-opacity="0.12"/><rect x="646.74" y="436" width="176" height="1" fill="#fff" fill-opacity="0.12"/><rect x="646.74" y="468" width="176" height="1" fill="#fff" fill-opacity="0.12"/><rect x="646.74" y="500" width="176" height="1" fill="#fff" fill-opacity="0.12"/><rect x="646.74" y="532" width="176" height="1" fill="#fff" fill-opacity="0.12"/><rect x="646.74" y="564" width="176" height="1" fill="#fff" fill-opacity="0.12"/><rect x="646.74" y="596" width="176" height="1" fill="#fff" fill-opacity="0.12"/><rect x="646.74" y="628" width="176" height="1" fill="#fff" fill-opacity="0.12"/><rect x="646.74" y="660" width="176" height="1" fill="#fff" fill-opacity="0.12"/><rect x="646.74" y="692" width="176" height="1" fill="#fff" fill-opacity="0.12"/><rect x="646.74" y="724" width="176" height="1" fill="#fff" fill-opacity="0.12"/><rect x="646.74" y="756" width="176" height="1" fill="#fff" fill-opacity="0.12"/><rect x="646.74" y="789" width="176" height="1" fill="#fff" fill-opacity="0.12"/><rect x="646.74" y="821" width="176" height="1" fill="#fff" fill-opacity="0.12"/><rect x="646.74" y="853" width="176" height="1" fill="#fff" fill-opacity="0.12"/><rect x="646.74" y="885" width="176" height="1" fill="#fff" fill-opacity="0.12"/><rect x="646.74" y="917" width="176" height="1" fill="#fff" fill-opacity="0.12"/><rect x="646.74" y="949" width="176" height="1" fill="#fff" fill-opacity="0.12"/><rect x="646.74" y="981" width="176" height="1" fill="#fff" fill-opacity="0.12"/><rect x="646.74" y="1013" width="176" height="1" fill="#fff" fill-opacity="0.12"/><rect x="646.74" y="1045" width="176" height="1" fill="#fff" fill-opacity="0.12"/><rect x="646.74" y="1077" width="176" height="1" fill="#fff" fill-opacity="0.12"/><rect x="646.74" y="1109" width="176" height="1" fill="#fff" fill-opacity="0.12"/><rect x="646.74" y="1141" width="176" height="1" fill="#fff" fill-opacity="0.12"/><rect x="646.74" y="1173" width="176" height="1" fill="#fff" fill-opacity="0.12"/><rect x="646.74" y="1205" width="176" height="1" fill="#fff" fill-opacity="0.12"/><rect x="646.74" y="1237" width="176" height="1" fill="#fff" fill-opacity="0.12"/><rect x="646.74" y="1269" width="176" height="1" fill="#fff" fill-opacity="0.12"/><rect x="646.74" y="1301" width="176" height="1" fill="#fff" fill-opacity="0.12"/><rect x="646.74" y="1333" width="176" height="1" fill="#fff" fill-opacity="0.12"/><rect x="646.74" y="1365" width="176" height="1" fill="#fff" fill-opacity="0.12"/><rect x="646.74" y="1397" width="176" height="1" fill="#fff" fill-opacity="0.12"/><rect x="646.74" y="1429" width="176" height="1" fill="#fff" fill-opacity="0.12"/><rect x="646.74" y="1461" width="176" height="1" fill="#fff" fill-opacity="0.12"/></g><text class="l" x="633.94" y="171.22" text-anchor="end">JFL_3</text><text class="l" x="633.94" y="203.26" text-anchor="end">LMS_2</text><text class="l" x="633.94" y="235.3" text-anchor="end">BWL_<tspan class="o">1</tspan></text><text class="l" x="633.94" y="267.34" text-anchor="end">LMS_<tspan class="o">1</tspan>0</text><text class="l" x="633.94" y="299.38" text-anchor="end">YGL_3</text><text class="l" x="633.94" y="331.42" text-anchor="end">BWL_6</text><text class="l" x="633.94" y="363.46" text-anchor="end">BWL_<tspan class="o">1</tspan>3</text><text class="l" x="633.94" y="395.5" text-anchor="end">BWL_2</text><text class="l" x="633.94" y="427.54" text-anchor="end">BWL_8</text><text class="l" x="633.94" y="459.58" text-anchor="end">BWL_7</text><text class="l" x="633.94" y="491.62" text-anchor="end">JFL_<tspan class="o">1</tspan>0</text><text class="l" x="633.94" y="523.66" text-anchor="end">LMS_9</text><text class="l" x="633.94" y="555.7" text-anchor="end">BWL_<tspan class="o">1</tspan>2</text><text class="l" x="633.94" y="587.74" text-anchor="end">LMS_7</text><text class="l" x="633.94" y="619.78" text-anchor="end">BWL_3</text><text class="l" x="633.94" y="651.82" text-anchor="end">WZS_2</text><text class="l" x="633.94" y="683.86" text-anchor="end">YGL_2</text><text class="l" x="633.94" y="715.9" text-anchor="end">BWL_<tspan class="o">1</tspan><tspan class="o">1</tspan></text><text class="l" x="633.94" y="747.94" text-anchor="end">BWL_4</text><text class="l" x="633.94" y="779.98" text-anchor="end">BWL_9</text><text class="l" x="633.94" y="812.02" text-anchor="end">JFL_9</text><text class="l" x="633.94" y="844.06" text-anchor="end">BWL_<tspan class="o">1</tspan>0</text><text class="l" x="633.94" y="876.1" text-anchor="end">LMS_6</text><text class="l" x="633.94" y="908.14" text-anchor="end">BWL_5</text><text class="l" x="633.94" y="940.18" text-anchor="end">WZS_<tspan class="o">1</tspan></text><text class="l" x="633.94" y="972.22" text-anchor="end">LMS_5</text><text class="l" x="633.94" y="1004.26" text-anchor="end">JFL_<tspan class="o">1</tspan></text><text class="l" x="633.94" y="1036.3" text-anchor="end">LMS_4</text><text class="l" x="633.94" y="1068.34" text-anchor="end">DLS_<tspan class="o">1</tspan></text><text class="l" x="633.94" y="1100.38" text-anchor="end">DLS_3</text><text class="l" x="633.94" y="1132.42" text-anchor="end">DLS_2</text><text class="l" x="633.94" y="1164.46" text-anchor="end">LMS_<tspan class="o">1</tspan></text><text class="l" x="633.94" y="1196.5" text-anchor="end">LMS_8</text><text class="l" x="633.94" y="1228.54" text-anchor="end">LMS_3</text><text class="l" x="633.94" y="1260.58" text-anchor="end">JFL_4</text><text class="l" x="633.94" y="1292.62" text-anchor="end">FY_<tspan class="o">1</tspan></text><text class="l" x="633.94" y="1324.66" text-anchor="end">JFL_5</text><text class="l" x="633.94" y="1356.7" text-anchor="end">JFL_6</text><text class="l" x="633.94" y="1388.74" text-anchor="end">JFL_7</text><text class="l" x="633.94" y="1420.78" text-anchor="end">JFL_8</text><text class="l" x="633.94" y="1452.82" text-anchor="end">YGL_<tspan class="o">1</tspan></text><text class="l" x="633.94" y="1484.86" text-anchor="end">JFL_2</text><text class="k" x="1013.51" y="133.8" text-anchor="middle">K=7</text><g><rect x="925.51" y="148.5" width="176" height="33.04" fill="#2121D9"/><rect x="925.51" y="180.54" width="176" height="33.04" fill="#2121D9"/><rect x="925.51" y="212.58" width="176" height="33.04" fill="#9999FF"/><rect x="925.51" y="244.62" width="176" height="33.04" fill="#9999FF"/><rect x="925.51" y="276.66" width="176" height="33.04" fill="#9999FF"/><rect x="925.51" y="308.7" width="176" height="33.04" fill="#9999FF"/><rect x="925.51" y="340.74" width="176" height="33.04" fill="#9999FF"/><rect x="925.51" y="372.78" width="176" height="33.04" fill="#9999FF"/><rect x="925.51" y="404.82" width="176" height="33.04" fill="#DF0101"/><rect x="925.51" y="436.86" width="176" height="33.04" fill="#DF0101"/><rect x="925.51" y="468.9" width="59.84" height="33.04" fill="#04B404"/><rect x="985.35" y="468.9" width="116.16" height="33.04" fill="#DF0101"/><rect x="925.51" y="500.94" width="176" height="33.04" fill="#04B404"/><rect x="925.51" y="532.98" width="176" height="33.04" fill="#04B404"/><rect x="925.51" y="565.02" width="176" height="33.04" fill="#04B404"/><rect x="925.51" y="597.06" width="176" height="33.04" fill="#FFFB23"/><rect x="925.51" y="629.1" width="176" height="33.04" fill="#FFFB23"/><rect x="925.51" y="661.14" width="176" height="33.04" fill="#FFFB23"/><rect x="925.51" y="693.18" width="176" height="33.04" fill="#FF9326"/><rect x="925.51" y="725.22" width="176" height="33.04" fill="#FF9326"/><rect x="925.51" y="757.26" width="176" height="33.04" fill="#FF9326"/><rect x="925.51" y="789.3" width="176" height="33.04" fill="#A945FF"/><rect x="925.51" y="821.34" width="176" height="33.04" fill="#A945FF"/><rect x="925.51" y="853.38" width="176" height="33.04" fill="#A945FF"/><rect x="925.51" y="885.42" width="168.96" height="33.04" fill="#A945FF"/><rect x="1094.47" y="885.42" width="7.04" height="33.04" fill="#FFFB23"/><rect x="925.51" y="917.46" width="159.1" height="33.04" fill="#A945FF"/><rect x="1084.61" y="917.46" width="16.9" height="33.04" fill="#FF9326"/><rect x="925.51" y="949.5" width="148.37" height="33.04" fill="#A945FF"/><rect x="1073.88" y="949.5" width="27.63" height="33.04" fill="#FF9326"/><rect x="925.51" y="981.54" width="146.61" height="33.04" fill="#A945FF"/><rect x="1072.12" y="981.54" width="23.23" height="33.04" fill="#FF9326"/><rect x="1095.35" y="981.54" width="6.16" height="33.04" fill="#2121D9"/><rect x="925.51" y="1013.58" width="142.03" height="33.04" fill="#A945FF"/><rect x="1067.54" y="1013.58" width="33.97" height="33.04" fill="#FF9326"/><rect x="925.51" y="1045.62" width="138.86" height="33.04" fill="#A945FF"/><rect x="1064.37" y="1045.62" width="34.67" height="33.04" fill="#FF9326"/><rect x="1099.05" y="1045.62" width="2.46" height="33.04" fill="#2121D9"/><rect x="925.51" y="1077.66" width="137.1" height="33.04" fill="#A945FF"/><rect x="1062.61" y="1077.66" width="30.1" height="33.04" fill="#FF9326"/><rect x="1092.71" y="1077.66" width="8.8" height="33.04" fill="#2121D9"/><rect x="925.51" y="1109.7" width="135.17" height="33.04" fill="#A945FF"/><rect x="1060.68" y="1109.7" width="34.67" height="33.04" fill="#FF9326"/><rect x="1095.35" y="1109.7" width="6.16" height="33.04" fill="#2121D9"/><rect x="925.51" y="1141.74" width="131.82" height="33.04" fill="#A945FF"/><rect x="1057.33" y="1141.74" width="38.02" height="33.04" fill="#FF9326"/><rect x="1095.35" y="1141.74" width="6.16" height="33.04" fill="#2121D9"/><rect x="925.51" y="1173.78" width="129.01" height="33.04" fill="#A945FF"/><rect x="1054.52" y="1173.78" width="41.36" height="33.04" fill="#FF9326"/><rect x="1095.88" y="1173.78" width="5.63" height="33.04" fill="#FFFB23"/><rect x="925.51" y="1205.82" width="127.25" height="33.04" fill="#A945FF"/><rect x="1052.76" y="1205.82" width="43.82" height="33.04" fill="#FF9326"/><rect x="1096.58" y="1205.82" width="4.93" height="33.04" fill="#FFFB23"/><rect x="925.51" y="1237.86" width="126.37" height="33.04" fill="#A945FF"/><rect x="1051.88" y="1237.86" width="19.89" height="33.04" fill="#FF9326"/><rect x="1071.77" y="1237.86" width="23.94" height="33.04" fill="#FFFB23"/><rect x="1095.7" y="1237.86" width="5.81" height="33.04" fill="#2121D9"/><rect x="925.51" y="1269.9" width="115.98" height="33.04" fill="#A945FF"/><rect x="1041.49" y="1269.9" width="56.5" height="33.04" fill="#FF9326"/><rect x="1097.99" y="1269.9" width="3.52" height="33.04" fill="#FFFB23"/><rect x="925.51" y="1301.94" width="114.75" height="33.04" fill="#A945FF"/><rect x="1040.26" y="1301.94" width="57.02" height="33.04" fill="#FF9326"/><rect x="1097.29" y="1301.94" width="4.22" height="33.04" fill="#FFFB23"/><rect x="925.51" y="1333.98" width="110.35" height="33.04" fill="#A945FF"/><rect x="1035.86" y="1333.98" width="65.65" height="33.04" fill="#FF9326"/><rect x="925.51" y="1366.02" width="109.12" height="33.04" fill="#A945FF"/><rect x="1034.63" y="1366.02" width="54.91" height="33.04" fill="#FF9326"/><rect x="1089.54" y="1366.02" width="11.97" height="33.04" fill="#2121D9"/><rect x="925.51" y="1398.06" width="107.89" height="33.04" fill="#A945FF"/><rect x="1033.4" y="1398.06" width="68.11" height="33.04" fill="#FF9326"/><rect x="925.51" y="1430.1" width="98.74" height="33.04" fill="#A945FF"/><rect x="1024.25" y="1430.1" width="59.14" height="33.04" fill="#FF9326"/><rect x="1083.38" y="1430.1" width="18.13" height="33.04" fill="#2121D9"/><rect x="925.51" y="1462.14" width="96.98" height="32.04" fill="#A945FF"/><rect x="1022.49" y="1462.14" width="41.71" height="32.04" fill="#FF9326"/><rect x="1064.2" y="1462.14" width="13.55" height="32.04" fill="#FFFB23"/><rect x="1077.75" y="1462.14" width="23.76" height="32.04" fill="#2121D9"/><rect x="925.51" y="180" width="176" height="1" fill="#fff" fill-opacity="0.12"/><rect x="925.51" y="212" width="176" height="1" fill="#fff" fill-opacity="0.12"/><rect x="925.51" y="244" width="176" height="1" fill="#fff" fill-opacity="0.12"/><rect x="925.51" y="276" width="176" height="1" fill="#fff" fill-opacity="0.12"/><rect x="925.51" y="308" width="176" height="1" fill="#fff" fill-opacity="0.12"/><rect x="925.51" y="340" width="176" height="1" fill="#fff" fill-opacity="0.12"/><rect x="925.51" y="372" width="176" height="1" fill="#fff" fill-opacity="0.12"/><rect x="925.51" y="404" width="176" height="1" fill="#fff" fill-opacity="0.12"/><rect x="925.51" y="436" width="176" height="1" fill="#fff" fill-opacity="0.12"/><rect x="925.51" y="468" width="176" height="1" fill="#fff" fill-opacity="0.12"/><rect x="925.51" y="500" width="176" height="1" fill="#fff" fill-opacity="0.12"/><rect x="925.51" y="532" width="176" height="1" fill="#fff" fill-opacity="0.12"/><rect x="925.51" y="564" width="176" height="1" fill="#fff" fill-opacity="0.12"/><rect x="925.51" y="596" width="176" height="1" fill="#fff" fill-opacity="0.12"/><rect x="925.51" y="628" width="176" height="1" fill="#fff" fill-opacity="0.12"/><rect x="925.51" y="660" width="176" height="1" fill="#fff" fill-opacity="0.12"/><rect x="925.51" y="692" width="176" height="1" fill="#fff" fill-opacity="0.12"/><rect x="925.51" y="724" width="176" height="1" fill="#fff" fill-opacity="0.12"/><rect x="925.51" y="756" width="176" height="1" fill="#fff" fill-opacity="0.12"/><rect x="925.51" y="789" width="176" height="1" fill="#fff" fill-opacity="0.12"/><rect x="925.51" y="821" width="176" height="1" fill="#fff" fill-opacity="0.12"/><rect x="925.51" y="853" width="176" height="1" fill="#fff" fill-opacity="0.12"/><rect x="925.51" y="885" width="176" height="1" fill="#fff" fill-opacity="0.12"/><rect x="925.51" y="917" width="176" height="1" fill="#fff" fill-opacity="0.12"/><rect x="925.51" y="949" width="176" height="1" fill="#fff" fill-opacity="0.12"/><rect x="925.51" y="981" width="176" height="1" fill="#fff" fill-opacity="0.12"/><rect x="925.51" y="1013" width="176" height="1" fill="#fff" fill-opacity="0.12"/><rect x="925.51" y="1045" width="176" height="1" fill="#fff" fill-opacity="0.12"/><rect x="925.51" y="1077" width="176" height="1" fill="#fff" fill-opacity="0.12"/><rect x="925.51" y="1109" width="176" height="1" fill="#fff" fill-opacity="0.12"/><rect x="925.51" y="1141" width="176" height="1" fill="#fff" fill-opacity="0.12"/><rect x="925.51" y="1173" width="176" height="1" fill="#fff" fill-opacity="0.12"/><rect x="925.51" y="1205" width="176" height="1" fill="#fff" fill-opacity="0.12"/><rect x="925.51" y="1237" width="176" height="1" fill="#fff" fill-opacity="0.12"/><rect x="925.51" y="1269" width="176" height="1" fill="#fff" fill-opacity="0.12"/><rect x="925.51" y="1301" width="176" height="1" fill="#fff" fill-opacity="0.12"/><rect x="925.51" y="1333" width="176" height="1" fill="#fff" fill-opacity="0.12"/><rect x="925.51" y="1365" width="176" height="1" fill="#fff" fill-opacity="0.12"/><rect x="925.51" y="1397" width="176" height="1" fill="#fff" fill-opacity="0.12"/><rect x="925.51" y="1429" width="176" height="1" fill="#fff" fill-opacity="0.12"/><rect x="925.51" y="1461" width="176" height="1" fill="#fff" fill-opacity="0.12"/></g><text class="l" x="912.71" y="171.22" text-anchor="end">BWL_<tspan class="o">1</tspan></text><text class="l" x="912.71" y="203.26" text-anchor="end">LMS_2</text><text class="l" x="912.71" y="235.3" text-anchor="end">JFL_5</text><text class="l" x="912.71" y="267.34" text-anchor="end">JFL_6</text><text class="l" x="912.71" y="299.38" text-anchor="end">JFL_8</text><text class="l" x="912.71" y="331.42" text-anchor="end">YGL_<tspan class="o">1</tspan></text><text class="l" x="912.71" y="363.46" text-anchor="end">JFL_2</text><text class="l" x="912.71" y="395.5" text-anchor="end">JFL_7</text><text class="l" x="912.71" y="427.54" text-anchor="end">LMS_<tspan class="o">1</tspan></text><text class="l" x="912.71" y="459.58" text-anchor="end">LMS_8</text><text class="l" x="912.71" y="491.62" text-anchor="end">LMS_3</text><text class="l" x="912.71" y="523.66" text-anchor="end">DLS_2</text><text class="l" x="912.71" y="555.7" text-anchor="end">DLS_3</text><text class="l" x="912.71" y="587.74" text-anchor="end">DLS_<tspan class="o">1</tspan></text><text class="l" x="912.71" y="619.78" text-anchor="end">FY_<tspan class="o">1</tspan></text><text class="l" x="912.71" y="651.82" text-anchor="end">JFL_4</text><text class="l" x="912.71" y="683.86" text-anchor="end">LMS_4</text><text class="l" x="912.71" y="715.9" text-anchor="end">LMS_<tspan class="o">1</tspan>0</text><text class="l" x="912.71" y="747.94" text-anchor="end">YGL_3</text><text class="l" x="912.71" y="779.98" text-anchor="end">LMS_7</text><text class="l" x="912.71" y="812.02" text-anchor="end">BWL_3</text><text class="l" x="912.71" y="844.06" text-anchor="end">JFL_<tspan class="o">1</tspan></text><text class="l" x="912.71" y="876.1" text-anchor="end">JFL_3</text><text class="l" x="912.71" y="908.14" text-anchor="end">BWL_5</text><text class="l" x="912.71" y="940.18" text-anchor="end">BWL_<tspan class="o">1</tspan>0</text><text class="l" x="912.71" y="972.22" text-anchor="end">BWL_6</text><text class="l" x="912.71" y="1004.26" text-anchor="end">BWL_4</text><text class="l" x="912.71" y="1036.3" text-anchor="end">BWL_7</text><text class="l" x="912.71" y="1068.34" text-anchor="end">JFL_<tspan class="o">1</tspan>0</text><text class="l" x="912.71" y="1100.38" text-anchor="end">BWL_2</text><text class="l" x="912.71" y="1132.42" text-anchor="end">BWL_9</text><text class="l" x="912.71" y="1164.46" text-anchor="end">BWL_<tspan class="o">1</tspan><tspan class="o">1</tspan></text><text class="l" x="912.71" y="1196.5" text-anchor="end">JFL_9</text><text class="l" x="912.71" y="1228.54" text-anchor="end">LMS_6</text><text class="l" x="912.71" y="1260.58" text-anchor="end">WZS_<tspan class="o">1</tspan></text><text class="l" x="912.71" y="1292.62" text-anchor="end">BWL_<tspan class="o">1</tspan>2</text><text class="l" x="912.71" y="1324.66" text-anchor="end">LMS_9</text><text class="l" x="912.71" y="1356.7" text-anchor="end">BWL_8</text><text class="l" x="912.71" y="1388.74" text-anchor="end">WZS_2</text><text class="l" x="912.71" y="1420.78" text-anchor="end">BWL_<tspan class="o">1</tspan>3</text><text class="l" x="912.71" y="1452.82" text-anchor="end">YGL_2</text><text class="l" x="912.71" y="1484.86" text-anchor="end">LMS_5</text><text class="k" x="1292.28" y="133.8" text-anchor="middle">K=6</text><g><rect x="1204.28" y="148.5" width="176" height="33.04" fill="#2121D9"/><rect x="1204.28" y="180.54" width="176" height="33.04" fill="#2121D9"/><rect x="1204.28" y="212.58" width="60.37" height="33.04" fill="#04B404"/><rect x="1264.65" y="212.58" width="115.63" height="33.04" fill="#2121D9"/><rect x="1204.28" y="244.62" width="176" height="33.04" fill="#9999FF"/><rect x="1204.28" y="276.66" width="176" height="33.04" fill="#9999FF"/><rect x="1204.28" y="308.7" width="176" height="33.04" fill="#DF0101"/><rect x="1204.28" y="340.74" width="176" height="33.04" fill="#DF0101"/><rect x="1204.28" y="372.78" width="176" height="33.04" fill="#DF0101"/><rect x="1204.28" y="404.82" width="176" height="33.04" fill="#DF0101"/><rect x="1204.28" y="436.86" width="176" height="33.04" fill="#DF0101"/><rect x="1204.28" y="468.9" width="176" height="33.04" fill="#DF0101"/><rect x="1204.28" y="500.94" width="176" height="33.04" fill="#04B404"/><rect x="1204.28" y="532.98" width="176" height="33.04" fill="#04B404"/><rect x="1204.28" y="565.02" width="176" height="33.04" fill="#04B404"/><rect x="1204.28" y="597.06" width="176" height="33.04" fill="#FFFB23"/><rect x="1204.28" y="629.1" width="176" height="33.04" fill="#FFFB23"/><rect x="1204.28" y="661.14" width="176" height="33.04" fill="#FFFB23"/><rect x="1204.28" y="693.18" width="174.77" height="33.04" fill="#FFFB23"/><rect x="1379.05" y="693.18" width="1.23" height="33.04" fill="#9999FF"/><rect x="1204.28" y="725.22" width="0.88" height="33.04" fill="#FF9326"/><rect x="1205.16" y="725.22" width="175.12" height="33.04" fill="#FFFB23"/><rect x="1204.28" y="757.26" width="0.7" height="33.04" fill="#FF9326"/><rect x="1204.98" y="757.26" width="175.3" height="33.04" fill="#FFFB23"/><rect x="1204.28" y="789.3" width="0.7" height="33.04" fill="#FF9326"/><rect x="1204.98" y="789.3" width="175.3" height="33.04" fill="#FFFB23"/><rect x="1204.28" y="821.34" width="169.31" height="33.04" fill="#FFFB23"/><rect x="1373.59" y="821.34" width="6.69" height="33.04" fill="#9999FF"/><rect x="1204.28" y="853.38" width="8.27" height="33.04" fill="#FF9326"/><rect x="1212.55" y="853.38" width="167.73" height="33.04" fill="#FFFB23"/><rect x="1204.28" y="885.42" width="164.91" height="33.04" fill="#FFFB23"/><rect x="1369.19" y="885.42" width="11.09" height="33.04" fill="#9999FF"/><rect x="1204.28" y="917.46" width="162.27" height="33.04" fill="#FFFB23"/><rect x="1366.55" y="917.46" width="13.73" height="33.04" fill="#9999FF"/><rect x="1204.28" y="949.5" width="162.27" height="33.04" fill="#FFFB23"/><rect x="1366.55" y="949.5" width="13.73" height="33.04" fill="#9999FF"/><rect x="1204.28" y="981.54" width="161.92" height="33.04" fill="#FFFB23"/><rect x="1366.2" y="981.54" width="14.08" height="33.04" fill="#9999FF"/><rect x="1204.28" y="1013.58" width="161.04" height="33.04" fill="#FFFB23"/><rect x="1365.32" y="1013.58" width="14.96" height="33.04" fill="#9999FF"/><rect x="1204.28" y="1045.62" width="6.16" height="33.04" fill="#FF9326"/><rect x="1210.44" y="1045.62" width="160.34" height="33.04" fill="#FFFB23"/><rect x="1370.78" y="1045.62" width="9.5" height="33.04" fill="#9999FF"/><rect x="1204.28" y="1077.66" width="0.88" height="33.04" fill="#FF9326"/><rect x="1205.16" y="1077.66" width="160.16" height="33.04" fill="#FFFB23"/><rect x="1365.32" y="1077.66" width="14.96" height="33.04" fill="#9999FF"/><rect x="1204.28" y="1109.7" width="160.16" height="33.04" fill="#FFFB23"/><rect x="1364.44" y="1109.7" width="15.84" height="33.04" fill="#9999FF"/><rect x="1204.28" y="1141.74" width="5.81" height="33.04" fill="#FF9326"/><rect x="1210.09" y="1141.74" width="154.88" height="33.04" fill="#FFFB23"/><rect x="1364.97" y="1141.74" width="15.31" height="33.04" fill="#9999FF"/><rect x="1204.28" y="1173.78" width="152.77" height="33.04" fill="#FFFB23"/><rect x="1357.05" y="1173.78" width="23.23" height="33.04" fill="#9999FF"/><rect x="1204.28" y="1205.82" width="148.37" height="33.04" fill="#FFFB23"/><rect x="1352.65" y="1205.82" width="27.63" height="33.04" fill="#9999FF"/><rect x="1204.28" y="1237.86" width="147.31" height="33.04" fill="#FFFB23"/><rect x="1351.59" y="1237.86" width="28.69" height="33.04" fill="#9999FF"/><rect x="1204.28" y="1269.9" width="16.19" height="33.04" fill="#FF9326"/><rect x="1220.47" y="1269.9" width="145.38" height="33.04" fill="#FFFB23"/><rect x="1365.85" y="1269.9" width="14.43" height="33.04" fill="#9999FF"/><rect x="1204.28" y="1301.94" width="24.11" height="33.04" fill="#FF9326"/><rect x="1228.39" y="1301.94" width="137.46" height="33.04" fill="#FFFB23"/><rect x="1365.85" y="1301.94" width="14.43" height="33.04" fill="#9999FF"/><rect x="1204.28" y="1333.98" width="14.61" height="33.04" fill="#FF9326"/><rect x="1218.89" y="1333.98" width="135.87" height="33.04" fill="#FFFB23"/><rect x="1354.76" y="1333.98" width="25.52" height="33.04" fill="#9999FF"/><rect x="1204.28" y="1366.02" width="17.07" height="33.04" fill="#FF9326"/><rect x="1221.35" y="1366.02" width="127.6" height="33.04" fill="#FFFB23"/><rect x="1348.95" y="1366.02" width="31.33" height="33.04" fill="#9999FF"/><rect x="1204.28" y="1398.06" width="176" height="33.04" fill="#FF9326"/><rect x="1204.28" y="1430.1" width="176" height="33.04" fill="#FF9326"/><rect x="1204.28" y="1462.14" width="176" height="32.04" fill="#FF9326"/><rect x="1204.28" y="180" width="176" height="1" fill="#fff" fill-opacity="0.12"/><rect x="1204.28" y="212" width="176" height="1" fill="#fff" fill-opacity="0.12"/><rect x="1204.28" y="244" width="176" height="1" fill="#fff" fill-opacity="0.12"/><rect x="1204.28" y="276" width="176" height="1" fill="#fff" fill-opacity="0.12"/><rect x="1204.28" y="308" width="176" height="1" fill="#fff" fill-opacity="0.12"/><rect x="1204.28" y="340" width="176" height="1" fill="#fff" fill-opacity="0.12"/><rect x="1204.28" y="372" width="176" height="1" fill="#fff" fill-opacity="0.12"/><rect x="1204.28" y="404" width="176" height="1" fill="#fff" fill-opacity="0.12"/><rect x="1204.28" y="436" width="176" height="1" fill="#fff" fill-opacity="0.12"/><rect x="1204.28" y="468" width="176" height="1" fill="#fff" fill-opacity="0.12"/><rect x="1204.28" y="500" width="176" height="1" fill="#fff" fill-opacity="0.12"/><rect x="1204.28" y="532" width="176" height="1" fill="#fff" fill-opacity="0.12"/><rect x="1204.28" y="564" width="176" height="1" fill="#fff" fill-opacity="0.12"/><rect x="1204.28" y="596" width="176" height="1" fill="#fff" fill-opacity="0.12"/><rect x="1204.28" y="628" width="176" height="1" fill="#fff" fill-opacity="0.12"/><rect x="1204.28" y="660" width="176" height="1" fill="#fff" fill-opacity="0.12"/><rect x="1204.28" y="692" width="176" height="1" fill="#fff" fill-opacity="0.12"/><rect x="1204.28" y="724" width="176" height="1" fill="#fff" fill-opacity="0.12"/><rect x="1204.28" y="756" width="176" height="1" fill="#fff" fill-opacity="0.12"/><rect x="1204.28" y="789" width="176" height="1" fill="#fff" fill-opacity="0.12"/><rect x="1204.28" y="821" width="176" height="1" fill="#fff" fill-opacity="0.12"/><rect x="1204.28" y="853" width="176" height="1" fill="#fff" fill-opacity="0.12"/><rect x="1204.28" y="885" width="176" height="1" fill="#fff" fill-opacity="0.12"/><rect x="1204.28" y="917" width="176" height="1" fill="#fff" fill-opacity="0.12"/><rect x="1204.28" y="949" width="176" height="1" fill="#fff" fill-opacity="0.12"/><rect x="1204.28" y="981" width="176" height="1" fill="#fff" fill-opacity="0.12"/><rect x="1204.28" y="1013" width="176" height="1" fill="#fff" fill-opacity="0.12"/><rect x="1204.28" y="1045" width="176" height="1" fill="#fff" fill-opacity="0.12"/><rect x="1204.28" y="1077" width="176" height="1" fill="#fff" fill-opacity="0.12"/><rect x="1204.28" y="1109" width="176" height="1" fill="#fff" fill-opacity="0.12"/><rect x="1204.28" y="1141" width="176" height="1" fill="#fff" fill-opacity="0.12"/><rect x="1204.28" y="1173" width="176" height="1" fill="#fff" fill-opacity="0.12"/><rect x="1204.28" y="1205" width="176" height="1" fill="#fff" fill-opacity="0.12"/><rect x="1204.28" y="1237" width="176" height="1" fill="#fff" fill-opacity="0.12"/><rect x="1204.28" y="1269" width="176" height="1" fill="#fff" fill-opacity="0.12"/><rect x="1204.28" y="1301" width="176" height="1" fill="#fff" fill-opacity="0.12"/><rect x="1204.28" y="1333" width="176" height="1" fill="#fff" fill-opacity="0.12"/><rect x="1204.28" y="1365" width="176" height="1" fill="#fff" fill-opacity="0.12"/><rect x="1204.28" y="1397" width="176" height="1" fill="#fff" fill-opacity="0.12"/><rect x="1204.28" y="1429" width="176" height="1" fill="#fff" fill-opacity="0.12"/><rect x="1204.28" y="1461" width="176" height="1" fill="#fff" fill-opacity="0.12"/></g><text class="l" x="1191.48" y="171.22" text-anchor="end">LMS_<tspan class="o">1</tspan></text><text class="l" x="1191.48" y="203.26" text-anchor="end">LMS_8</text><text class="l" x="1191.48" y="235.3" text-anchor="end">LMS_3</text><text class="l" x="1191.48" y="267.34" text-anchor="end">BWL_<tspan class="o">1</tspan></text><text class="l" x="1191.48" y="299.38" text-anchor="end">LMS_7</text><text class="l" x="1191.48" y="331.42" text-anchor="end">JFL_2</text><text class="l" x="1191.48" y="363.46" text-anchor="end">JFL_5</text><text class="l" x="1191.48" y="395.5" text-anchor="end">JFL_6</text><text class="l" x="1191.48" y="427.54" text-anchor="end">YGL_<tspan class="o">1</tspan></text><text class="l" x="1191.48" y="459.58" text-anchor="end">JFL_8</text><text class="l" x="1191.48" y="491.62" text-anchor="end">JFL_7</text><text class="l" x="1191.48" y="523.66" text-anchor="end">DLS_<tspan class="o">1</tspan></text><text class="l" x="1191.48" y="555.7" text-anchor="end">DLS_3</text><text class="l" x="1191.48" y="587.74" text-anchor="end">DLS_2</text><text class="l" x="1191.48" y="619.78" text-anchor="end">BWL_<tspan class="o">1</tspan>2</text><text class="l" x="1191.48" y="651.82" text-anchor="end">JFL_<tspan class="o">1</tspan></text><text class="l" x="1191.48" y="683.86" text-anchor="end">LMS_<tspan class="o">1</tspan>0</text><text class="l" x="1191.48" y="715.9" text-anchor="end">BWL_4</text><text class="l" x="1191.48" y="747.94" text-anchor="end">BWL_7</text><text class="l" x="1191.48" y="779.98" text-anchor="end">LMS_9</text><text class="l" x="1191.48" y="812.02" text-anchor="end">BWL_<tspan class="o">1</tspan>0</text><text class="l" x="1191.48" y="844.06" text-anchor="end">JFL_3</text><text class="l" x="1191.48" y="876.1" text-anchor="end">JFL_4</text><text class="l" x="1191.48" y="908.14" text-anchor="end">BWL_3</text><text class="l" x="1191.48" y="940.18" text-anchor="end">BWL_5</text><text class="l" x="1191.48" y="972.22" text-anchor="end">LMS_2</text><text class="l" x="1191.48" y="1004.26" text-anchor="end">WZS_<tspan class="o">1</tspan></text><text class="l" x="1191.48" y="1036.3" text-anchor="end">BWL_<tspan class="o">1</tspan><tspan class="o">1</tspan></text><text class="l" x="1191.48" y="1068.34" text-anchor="end">LMS_6</text><text class="l" x="1191.48" y="1100.38" text-anchor="end">JFL_<tspan class="o">1</tspan>0</text><text class="l" x="1191.48" y="1132.42" text-anchor="end">JFL_9</text><text class="l" x="1191.48" y="1164.46" text-anchor="end">WZS_2</text><text class="l" x="1191.48" y="1196.5" text-anchor="end">BWL_9</text><text class="l" x="1191.48" y="1228.54" text-anchor="end">BWL_2</text><text class="l" x="1191.48" y="1260.58" text-anchor="end">BWL_<tspan class="o">1</tspan>3</text><text class="l" x="1191.48" y="1292.62" text-anchor="end">LMS_5</text><text class="l" x="1191.48" y="1324.66" text-anchor="end">BWL_8</text><text class="l" x="1191.48" y="1356.7" text-anchor="end">BWL_6</text><text class="l" x="1191.48" y="1388.74" text-anchor="end">YGL_2</text><text class="l" x="1191.48" y="1420.78" text-anchor="end">FY_<tspan class="o">1</tspan></text><text class="l" x="1191.48" y="1452.82" text-anchor="end">LMS_4</text><text class="l" x="1191.48" y="1484.86" text-anchor="end">YGL_3</text><text class="k" x="1571.05" y="133.8" text-anchor="middle">K=5</text><g><rect x="1483.05" y="148.5" width="176" height="33.04" fill="#2121D9"/><rect x="1483.05" y="180.54" width="176" height="33.04" fill="#2121D9"/><rect x="1483.05" y="212.58" width="176" height="33.04" fill="#2121D9"/><rect x="1483.05" y="244.62" width="176" height="33.04" fill="#9999FF"/><rect x="1483.05" y="276.66" width="176" height="33.04" fill="#9999FF"/><rect x="1483.05" y="308.7" width="176" height="33.04" fill="#9999FF"/><rect x="1483.05" y="340.74" width="176" height="33.04" fill="#9999FF"/><rect x="1483.05" y="372.78" width="176" height="33.04" fill="#9999FF"/><rect x="1483.05" y="404.82" width="176" height="33.04" fill="#9999FF"/><rect x="1483.05" y="436.86" width="176" height="33.04" fill="#DF0101"/><rect x="1483.05" y="468.9" width="176" height="33.04" fill="#DF0101"/><rect x="1483.05" y="500.94" width="176" height="33.04" fill="#DF0101"/><rect x="1483.05" y="532.98" width="176" height="33.04" fill="#DF0101"/><rect x="1483.05" y="565.02" width="174.24" height="33.04" fill="#DF0101"/><rect x="1657.29" y="565.02" width="1.76" height="33.04" fill="#2121D9"/><rect x="1483.05" y="597.06" width="176" height="33.04" fill="#04B404"/><rect x="1483.05" y="629.1" width="176" height="33.04" fill="#04B404"/><rect x="1483.05" y="661.14" width="176" height="33.04" fill="#04B404"/><rect x="1483.05" y="693.18" width="176" height="33.04" fill="#04B404"/><rect x="1483.05" y="725.22" width="176" height="33.04" fill="#04B404"/><rect x="1483.05" y="757.26" width="176" height="33.04" fill="#04B404"/><rect x="1483.05" y="789.3" width="176" height="33.04" fill="#FFFB23"/><rect x="1483.05" y="821.34" width="176" height="33.04" fill="#FFFB23"/><rect x="1483.05" y="853.38" width="176" height="33.04" fill="#FFFB23"/><rect x="1483.05" y="885.42" width="176" height="33.04" fill="#FFFB23"/><rect x="1483.05" y="917.46" width="176" height="33.04" fill="#FFFB23"/><rect x="1483.05" y="949.5" width="176" height="33.04" fill="#FFFB23"/><rect x="1483.05" y="981.54" width="176" height="33.04" fill="#FFFB23"/><rect x="1483.05" y="1013.58" width="171.07" height="33.04" fill="#FFFB23"/><rect x="1654.12" y="1013.58" width="4.93" height="33.04" fill="#DF0101"/><rect x="1483.05" y="1045.62" width="169.49" height="33.04" fill="#FFFB23"/><rect x="1652.54" y="1045.62" width="6.51" height="33.04" fill="#2121D9"/><rect x="1483.05" y="1077.66" width="161.92" height="33.04" fill="#FFFB23"/><rect x="1644.97" y="1077.66" width="14.08" height="33.04" fill="#DF0101"/><rect x="1483.05" y="1109.7" width="160.69" height="33.04" fill="#FFFB23"/><rect x="1643.74" y="1109.7" width="9.15" height="33.04" fill="#DF0101"/><rect x="1652.89" y="1109.7" width="6.16" height="33.04" fill="#2121D9"/><rect x="1483.05" y="1141.74" width="159.46" height="33.04" fill="#FFFB23"/><rect x="1642.51" y="1141.74" width="11.09" height="33.04" fill="#DF0101"/><rect x="1653.59" y="1141.74" width="5.46" height="33.04" fill="#2121D9"/><rect x="1483.05" y="1173.78" width="156.46" height="33.04" fill="#FFFB23"/><rect x="1639.51" y="1173.78" width="19.54" height="33.04" fill="#DF0101"/><rect x="1483.05" y="1205.82" width="155.76" height="33.04" fill="#FFFB23"/><rect x="1638.81" y="1205.82" width="20.24" height="33.04" fill="#DF0101"/><rect x="1483.05" y="1237.86" width="154.53" height="33.04" fill="#FFFB23"/><rect x="1637.58" y="1237.86" width="11.26" height="33.04" fill="#DF0101"/><rect x="1648.84" y="1237.86" width="10.21" height="33.04" fill="#2121D9"/><rect x="1483.05" y="1269.9" width="152.06" height="33.04" fill="#FFFB23"/><rect x="1635.11" y="1269.9" width="23.94" height="33.04" fill="#DF0101"/><rect x="1483.05" y="1301.94" width="150.3" height="33.04" fill="#FFFB23"/><rect x="1633.35" y="1301.94" width="25.7" height="33.04" fill="#2121D9"/><rect x="1483.05" y="1333.98" width="144.85" height="33.04" fill="#FFFB23"/><rect x="1627.9" y="1333.98" width="31.15" height="33.04" fill="#DF0101"/><rect x="1483.05" y="1366.02" width="143.79" height="33.04" fill="#FFFB23"/><rect x="1626.84" y="1366.02" width="18.66" height="33.04" fill="#DF0101"/><rect x="1645.5" y="1366.02" width="13.55" height="33.04" fill="#2121D9"/><rect x="1483.05" y="1398.06" width="142.91" height="33.04" fill="#FFFB23"/><rect x="1625.96" y="1398.06" width="32.21" height="33.04" fill="#DF0101"/><rect x="1658.17" y="1398.06" width="0.88" height="33.04" fill="#2121D9"/><rect x="1483.05" y="1430.1" width="133.41" height="33.04" fill="#FFFB23"/><rect x="1616.46" y="1430.1" width="36.08" height="33.04" fill="#DF0101"/><rect x="1652.54" y="1430.1" width="6.51" height="33.04" fill="#2121D9"/><rect x="1483.05" y="1462.14" width="94.34" height="32.04" fill="#FFFB23"/><rect x="1577.39" y="1462.14" width="60.02" height="32.04" fill="#DF0101"/><rect x="1637.4" y="1462.14" width="21.65" height="32.04" fill="#2121D9"/><rect x="1483.05" y="180" width="176" height="1" fill="#fff" fill-opacity="0.12"/><rect x="1483.05" y="212" width="176" height="1" fill="#fff" fill-opacity="0.12"/><rect x="1483.05" y="244" width="176" height="1" fill="#fff" fill-opacity="0.12"/><rect x="1483.05" y="276" width="176" height="1" fill="#fff" fill-opacity="0.12"/><rect x="1483.05" y="308" width="176" height="1" fill="#fff" fill-opacity="0.12"/><rect x="1483.05" y="340" width="176" height="1" fill="#fff" fill-opacity="0.12"/><rect x="1483.05" y="372" width="176" height="1" fill="#fff" fill-opacity="0.12"/><rect x="1483.05" y="404" width="176" height="1" fill="#fff" fill-opacity="0.12"/><rect x="1483.05" y="436" width="176" height="1" fill="#fff" fill-opacity="0.12"/><rect x="1483.05" y="468" width="176" height="1" fill="#fff" fill-opacity="0.12"/><rect x="1483.05" y="500" width="176" height="1" fill="#fff" fill-opacity="0.12"/><rect x="1483.05" y="532" width="176" height="1" fill="#fff" fill-opacity="0.12"/><rect x="1483.05" y="564" width="176" height="1" fill="#fff" fill-opacity="0.12"/><rect x="1483.05" y="596" width="176" height="1" fill="#fff" fill-opacity="0.12"/><rect x="1483.05" y="628" width="176" height="1" fill="#fff" fill-opacity="0.12"/><rect x="1483.05" y="660" width="176" height="1" fill="#fff" fill-opacity="0.12"/><rect x="1483.05" y="692" width="176" height="1" fill="#fff" fill-opacity="0.12"/><rect x="1483.05" y="724" width="176" height="1" fill="#fff" fill-opacity="0.12"/><rect x="1483.05" y="756" width="176" height="1" fill="#fff" fill-opacity="0.12"/><rect x="1483.05" y="789" width="176" height="1" fill="#fff" fill-opacity="0.12"/><rect x="1483.05" y="821" width="176" height="1" fill="#fff" fill-opacity="0.12"/><rect x="1483.05" y="853" width="176" height="1" fill="#fff" fill-opacity="0.12"/><rect x="1483.05" y="885" width="176" height="1" fill="#fff" fill-opacity="0.12"/><rect x="1483.05" y="917" width="176" height="1" fill="#fff" fill-opacity="0.12"/><rect x="1483.05" y="949" width="176" height="1" fill="#fff" fill-opacity="0.12"/><rect x="1483.05" y="981" width="176" height="1" fill="#fff" fill-opacity="0.12"/><rect x="1483.05" y="1013" width="176" height="1" fill="#fff" fill-opacity="0.12"/><rect x="1483.05" y="1045" width="176" height="1" fill="#fff" fill-opacity="0.12"/><rect x="1483.05" y="1077" width="176" height="1" fill="#fff" fill-opacity="0.12"/><rect x="1483.05" y="1109" width="176" height="1" fill="#fff" fill-opacity="0.12"/><rect x="1483.05" y="1141" width="176" height="1" fill="#fff" fill-opacity="0.12"/><rect x="1483.05" y="1173" width="176" height="1" fill="#fff" fill-opacity="0.12"/><rect x="1483.05" y="1205" width="176" height="1" fill="#fff" fill-opacity="0.12"/><rect x="1483.05" y="1237" width="176" height="1" fill="#fff" fill-opacity="0.12"/><rect x="1483.05" y="1269" width="176" height="1" fill="#fff" fill-opacity="0.12"/><rect x="1483.05" y="1301" width="176" height="1" fill="#fff" fill-opacity="0.12"/><rect x="1483.05" y="1333" width="176" height="1" fill="#fff" fill-opacity="0.12"/><rect x="1483.05" y="1365" width="176" height="1" fill="#fff" fill-opacity="0.12"/><rect x="1483.05" y="1397" width="176" height="1" fill="#fff" fill-opacity="0.12"/><rect x="1483.05" y="1429" width="176" height="1" fill="#fff" fill-opacity="0.12"/><rect x="1483.05" y="1461" width="176" height="1" fill="#fff" fill-opacity="0.12"/></g><text class="l" x="1470.25" y="171.22" text-anchor="end">BWL_<tspan class="o">1</tspan></text><text class="l" x="1470.25" y="203.26" text-anchor="end">FY_<tspan class="o">1</tspan></text><text class="l" x="1470.25" y="235.3" text-anchor="end">LMS_4</text><text class="l" x="1470.25" y="267.34" text-anchor="end">DLS_<tspan class="o">1</tspan></text><text class="l" x="1470.25" y="299.38" text-anchor="end">DLS_2</text><text class="l" x="1470.25" y="331.42" text-anchor="end">DLS_3</text><text class="l" x="1470.25" y="363.46" text-anchor="end">LMS_<tspan class="o">1</tspan></text><text class="l" x="1470.25" y="395.5" text-anchor="end">LMS_3</text><text class="l" x="1470.25" y="427.54" text-anchor="end">LMS_8</text><text class="l" x="1470.25" y="459.58" text-anchor="end">BWL_3</text><text class="l" x="1470.25" y="491.62" text-anchor="end">JFL_<tspan class="o">1</tspan></text><text class="l" x="1470.25" y="523.66" text-anchor="end">JFL_4</text><text class="l" x="1470.25" y="555.7" text-anchor="end">WZS_<tspan class="o">1</tspan></text><text class="l" x="1470.25" y="587.74" text-anchor="end">LMS_2</text><text class="l" x="1470.25" y="619.78" text-anchor="end">JFL_2</text><text class="l" x="1470.25" y="651.82" text-anchor="end">JFL_6</text><text class="l" x="1470.25" y="683.86" text-anchor="end">JFL_7</text><text class="l" x="1470.25" y="715.9" text-anchor="end">JFL_8</text><text class="l" x="1470.25" y="747.94" text-anchor="end">YGL_<tspan class="o">1</tspan></text><text class="l" x="1470.25" y="779.98" text-anchor="end">JFL_5</text><text class="l" x="1470.25" y="812.02" text-anchor="end">BWL_<tspan class="o">1</tspan>2</text><text class="l" x="1470.25" y="844.06" text-anchor="end">BWL_<tspan class="o">1</tspan>3</text><text class="l" x="1470.25" y="876.1" text-anchor="end">BWL_7</text><text class="l" x="1470.25" y="908.14" text-anchor="end">BWL_8</text><text class="l" x="1470.25" y="940.18" text-anchor="end">JFL_3</text><text class="l" x="1470.25" y="972.22" text-anchor="end">LMS_<tspan class="o">1</tspan>0</text><text class="l" x="1470.25" y="1004.26" text-anchor="end">YGL_3</text><text class="l" x="1470.25" y="1036.3" text-anchor="end">BWL_2</text><text class="l" x="1470.25" y="1068.34" text-anchor="end">YGL_2</text><text class="l" x="1470.25" y="1100.38" text-anchor="end">JFL_<tspan class="o">1</tspan>0</text><text class="l" x="1470.25" y="1132.42" text-anchor="end">WZS_2</text><text class="l" x="1470.25" y="1164.46" text-anchor="end">BWL_5</text><text class="l" x="1470.25" y="1196.5" text-anchor="end">BWL_<tspan class="o">1</tspan>0</text><text class="l" x="1470.25" y="1228.54" text-anchor="end">LMS_9</text><text class="l" x="1470.25" y="1260.58" text-anchor="end">BWL_<tspan class="o">1</tspan><tspan class="o">1</tspan></text><text class="l" x="1470.25" y="1292.62" text-anchor="end">BWL_6</text><text class="l" x="1470.25" y="1324.66" text-anchor="end">LMS_7</text><text class="l" x="1470.25" y="1356.7" text-anchor="end">LMS_6</text><text class="l" x="1470.25" y="1388.74" text-anchor="end">BWL_9</text><text class="l" x="1470.25" y="1420.78" text-anchor="end">JFL_9</text><text class="l" x="1470.25" y="1452.82" text-anchor="end">BWL_4</text><text class="l" x="1470.25" y="1484.86" text-anchor="end">LMS_5</text><text class="k" x="1849.82" y="133.8" text-anchor="middle">K=4</text><g><rect x="1761.82" y="148.5" width="176" height="33.04" fill="#2121D9"/><rect x="1761.82" y="180.54" width="176" height="33.04" fill="#2121D9"/><rect x="1761.82" y="212.58" width="176" height="33.04" fill="#2121D9"/><rect x="1761.82" y="244.62" width="176" height="33.04" fill="#2121D9"/><rect x="1761.82" y="276.66" width="176" height="33.04" fill="#2121D9"/><rect x="1761.82" y="308.7" width="176" height="33.04" fill="#2121D9"/><rect x="1761.82" y="340.74" width="176" height="33.04" fill="#2121D9"/><rect x="1761.82" y="372.78" width="176" height="33.04" fill="#2121D9"/><rect x="1761.82" y="404.82" width="176" height="33.04" fill="#2121D9"/><rect x="1761.82" y="436.86" width="176" height="33.04" fill="#2121D9"/><rect x="1761.82" y="468.9" width="176" height="33.04" fill="#2121D9"/><rect x="1761.82" y="500.94" width="176" height="33.04" fill="#2121D9"/><rect x="1761.82" y="532.98" width="176" height="33.04" fill="#2121D9"/><rect x="1761.82" y="565.02" width="176" height="33.04" fill="#2121D9"/><rect x="1761.82" y="597.06" width="176" height="33.04" fill="#2121D9"/><rect x="1761.82" y="629.1" width="176" height="33.04" fill="#2121D9"/><rect x="1761.82" y="661.14" width="176" height="33.04" fill="#2121D9"/><rect x="1761.82" y="693.18" width="176" height="33.04" fill="#2121D9"/><rect x="1761.82" y="725.22" width="176" height="33.04" fill="#2121D9"/><rect x="1761.82" y="757.26" width="176" height="33.04" fill="#2121D9"/><rect x="1761.82" y="789.3" width="176" height="33.04" fill="#2121D9"/><rect x="1761.82" y="821.34" width="176" height="33.04" fill="#2121D9"/><rect x="1761.82" y="853.38" width="176" height="33.04" fill="#2121D9"/><rect x="1761.82" y="885.42" width="176" height="33.04" fill="#2121D9"/><rect x="1761.82" y="917.46" width="176" height="33.04" fill="#2121D9"/><rect x="1761.82" y="949.5" width="176" height="33.04" fill="#2121D9"/><rect x="1761.82" y="981.54" width="176" height="33.04" fill="#2121D9"/><rect x="1761.82" y="1013.58" width="176" height="33.04" fill="#2121D9"/><rect x="1761.82" y="1045.62" width="176" height="33.04" fill="#2121D9"/><rect x="1761.82" y="1077.66" width="176" height="33.04" fill="#9999FF"/><rect x="1761.82" y="1109.7" width="176" height="33.04" fill="#9999FF"/><rect x="1761.82" y="1141.74" width="176" height="33.04" fill="#9999FF"/><rect x="1761.82" y="1173.78" width="60.37" height="33.04" fill="#04B404"/><rect x="1822.19" y="1173.78" width="115.63" height="33.04" fill="#9999FF"/><rect x="1761.82" y="1205.82" width="176" height="33.04" fill="#DF0101"/><rect x="1761.82" y="1237.86" width="176" height="33.04" fill="#DF0101"/><rect x="1761.82" y="1269.9" width="176" height="33.04" fill="#DF0101"/><rect x="1761.82" y="1301.94" width="176" height="33.04" fill="#DF0101"/><rect x="1761.82" y="1333.98" width="176" height="33.04" fill="#DF0101"/><rect x="1761.82" y="1366.02" width="176" height="33.04" fill="#DF0101"/><rect x="1761.82" y="1398.06" width="176" height="33.04" fill="#04B404"/><rect x="1761.82" y="1430.1" width="176" height="33.04" fill="#04B404"/><rect x="1761.82" y="1462.14" width="176" height="32.04" fill="#04B404"/><rect x="1761.82" y="180" width="176" height="1" fill="#fff" fill-opacity="0.12"/><rect x="1761.82" y="212" width="176" height="1" fill="#fff" fill-opacity="0.12"/><rect x="1761.82" y="244" width="176" height="1" fill="#fff" fill-opacity="0.12"/><rect x="1761.82" y="276" width="176" height="1" fill="#fff" fill-opacity="0.12"/><rect x="1761.82" y="308" width="176" height="1" fill="#fff" fill-opacity="0.12"/><rect x="1761.82" y="340" width="176" height="1" fill="#fff" fill-opacity="0.12"/><rect x="1761.82" y="372" width="176" height="1" fill="#fff" fill-opacity="0.12"/><rect x="1761.82" y="404" width="176" height="1" fill="#fff" fill-opacity="0.12"/><rect x="1761.82" y="436" width="176" height="1" fill="#fff" fill-opacity="0.12"/><rect x="1761.82" y="468" width="176" height="1" fill="#fff" fill-opacity="0.12"/><rect x="1761.82" y="500" width="176" height="1" fill="#fff" fill-opacity="0.12"/><rect x="1761.82" y="532" width="176" height="1" fill="#fff" fill-opacity="0.12"/><rect x="1761.82" y="564" width="176" height="1" fill="#fff" fill-opacity="0.12"/><rect x="1761.82" y="596" width="176" height="1" fill="#fff" fill-opacity="0.12"/><rect x="1761.82" y="628" width="176" height="1" fill="#fff" fill-opacity="0.12"/><rect x="1761.82" y="660" width="176" height="1" fill="#fff" fill-opacity="0.12"/><rect x="1761.82" y="692" width="176" height="1" fill="#fff" fill-opacity="0.12"/><rect x="1761.82" y="724" width="176" height="1" fill="#fff" fill-opacity="0.12"/><rect x="1761.82" y="756" width="176" height="1" fill="#fff" fill-opacity="0.12"/><rect x="1761.82" y="789" width="176" height="1" fill="#fff" fill-opacity="0.12"/><rect x="1761.82" y="821" width="176" height="1" fill="#fff" fill-opacity="0.12"/><rect x="1761.82" y="853" width="176" height="1" fill="#fff" fill-opacity="0.12"/><rect x="1761.82" y="885" width="176" height="1" fill="#fff" fill-opacity="0.12"/><rect x="1761.82" y="917" width="176" height="1" fill="#fff" fill-opacity="0.12"/><rect x="1761.82" y="949" width="176" height="1" fill="#fff" fill-opacity="0.12"/><rect x="1761.82" y="981" width="176" height="1" fill="#fff" fill-opacity="0.12"/><rect x="1761.82" y="1013" width="176" height="1" fill="#fff" fill-opacity="0.12"/><rect x="1761.82" y="1045" width="176" height="1" fill="#fff" fill-opacity="0.12"/><rect x="1761.82" y="1077" width="176" height="1" fill="#fff" fill-opacity="0.12"/><rect x="1761.82" y="1109" width="176" height="1" fill="#fff" fill-opacity="0.12"/><rect x="1761.82" y="1141" width="176" height="1" fill="#fff" fill-opacity="0.12"/><rect x="1761.82" y="1173" width="176" height="1" fill="#fff" fill-opacity="0.12"/><rect x="1761.82" y="1205" width="176" height="1" fill="#fff" fill-opacity="0.12"/><rect x="1761.82" y="1237" width="176" height="1" fill="#fff" fill-opacity="0.12"/><rect x="1761.82" y="1269" width="176" height="1" fill="#fff" fill-opacity="0.12"/><rect x="1761.82" y="1301" width="176" height="1" fill="#fff" fill-opacity="0.12"/><rect x="1761.82" y="1333" width="176" height="1" fill="#fff" fill-opacity="0.12"/><rect x="1761.82" y="1365" width="176" height="1" fill="#fff" fill-opacity="0.12"/><rect x="1761.82" y="1397" width="176" height="1" fill="#fff" fill-opacity="0.12"/><rect x="1761.82" y="1429" width="176" height="1" fill="#fff" fill-opacity="0.12"/><rect x="1761.82" y="1461" width="176" height="1" fill="#fff" fill-opacity="0.12"/></g><text class="l" x="1749.02" y="171.22" text-anchor="end">BWL_<tspan class="o">1</tspan></text><text class="l" x="1749.02" y="203.26" text-anchor="end">BWL_<tspan class="o">1</tspan>0</text><text class="l" x="1749.02" y="235.3" text-anchor="end">BWL_<tspan class="o">1</tspan><tspan class="o">1</tspan></text><text class="l" x="1749.02" y="267.34" text-anchor="end">BWL_<tspan class="o">1</tspan>2</text><text class="l" x="1749.02" y="299.38" text-anchor="end">BWL_<tspan class="o">1</tspan>3</text><text class="l" x="1749.02" y="331.42" text-anchor="end">BWL_2</text><text class="l" x="1749.02" y="363.46" text-anchor="end">BWL_3</text><text class="l" x="1749.02" y="395.5" text-anchor="end">BWL_4</text><text class="l" x="1749.02" y="427.54" text-anchor="end">BWL_5</text><text class="l" x="1749.02" y="459.58" text-anchor="end">BWL_7</text><text class="l" x="1749.02" y="491.62" text-anchor="end">BWL_8</text><text class="l" x="1749.02" y="523.66" text-anchor="end">BWL_9</text><text class="l" x="1749.02" y="555.7" text-anchor="end">JFL_<tspan class="o">1</tspan></text><text class="l" x="1749.02" y="587.74" text-anchor="end">JFL_<tspan class="o">1</tspan>0</text><text class="l" x="1749.02" y="619.78" text-anchor="end">JFL_3</text><text class="l" x="1749.02" y="651.82" text-anchor="end">JFL_4</text><text class="l" x="1749.02" y="683.86" text-anchor="end">JFL_9</text><text class="l" x="1749.02" y="715.9" text-anchor="end">LMS_<tspan class="o">1</tspan>0</text><text class="l" x="1749.02" y="747.94" text-anchor="end">LMS_2</text><text class="l" x="1749.02" y="779.98" text-anchor="end">LMS_4</text><text class="l" x="1749.02" y="812.02" text-anchor="end">LMS_5</text><text class="l" x="1749.02" y="844.06" text-anchor="end">LMS_6</text><text class="l" x="1749.02" y="876.1" text-anchor="end">LMS_7</text><text class="l" x="1749.02" y="908.14" text-anchor="end">LMS_9</text><text class="l" x="1749.02" y="940.18" text-anchor="end">WZS_<tspan class="o">1</tspan></text><text class="l" x="1749.02" y="972.22" text-anchor="end">WZS_2</text><text class="l" x="1749.02" y="1004.26" text-anchor="end">YGL_2</text><text class="l" x="1749.02" y="1036.3" text-anchor="end">YGL_3</text><text class="l" x="1749.02" y="1068.34" text-anchor="end">BWL_6</text><text class="l" x="1749.02" y="1100.38" text-anchor="end">FY_<tspan class="o">1</tspan></text><text class="l" x="1749.02" y="1132.42" text-anchor="end">LMS_<tspan class="o">1</tspan></text><text class="l" x="1749.02" y="1164.46" text-anchor="end">LMS_8</text><text class="l" x="1749.02" y="1196.5" text-anchor="end">LMS_3</text><text class="l" x="1749.02" y="1228.54" text-anchor="end">JFL_2</text><text class="l" x="1749.02" y="1260.58" text-anchor="end">JFL_5</text><text class="l" x="1749.02" y="1292.62" text-anchor="end">JFL_6</text><text class="l" x="1749.02" y="1324.66" text-anchor="end">JFL_7</text><text class="l" x="1749.02" y="1356.7" text-anchor="end">JFL_8</text><text class="l" x="1749.02" y="1388.74" text-anchor="end">YGL_<tspan class="o">1</tspan></text><text class="l" x="1749.02" y="1420.78" text-anchor="end">DLS_2</text><text class="l" x="1749.02" y="1452.82" text-anchor="end">DLS_3</text><text class="l" x="1749.02" y="1484.86" text-anchor="end">DLS_<tspan class="o">1</tspan></text><text class="k" x="2128.59" y="133.8" text-anchor="middle">K=3</text><g><rect x="2040.59" y="148.5" width="176" height="33.04" fill="#2121D9"/><rect x="2040.59" y="180.54" width="176" height="33.04" fill="#2121D9"/><rect x="2040.59" y="212.58" width="176" height="33.04" fill="#2121D9"/><rect x="2040.59" y="244.62" width="176" height="33.04" fill="#2121D9"/><rect x="2040.59" y="276.66" width="176" height="33.04" fill="#2121D9"/><rect x="2040.59" y="308.7" width="176" height="33.04" fill="#2121D9"/><rect x="2040.59" y="340.74" width="176" height="33.04" fill="#9999FF"/><rect x="2040.59" y="372.78" width="176" height="33.04" fill="#9999FF"/><rect x="2040.59" y="404.82" width="176" height="33.04" fill="#9999FF"/><rect x="2040.59" y="436.86" width="176" height="33.04" fill="#9999FF"/><rect x="2040.59" y="468.9" width="176" height="33.04" fill="#9999FF"/><rect x="2040.59" y="500.94" width="176" height="33.04" fill="#9999FF"/><rect x="2040.59" y="532.98" width="176" height="33.04" fill="#DF0101"/><rect x="2040.59" y="565.02" width="176" height="33.04" fill="#DF0101"/><rect x="2040.59" y="597.06" width="176" height="33.04" fill="#DF0101"/><rect x="2040.59" y="629.1" width="176" height="33.04" fill="#DF0101"/><rect x="2040.59" y="661.14" width="176" height="33.04" fill="#DF0101"/><rect x="2040.59" y="693.18" width="176" height="33.04" fill="#DF0101"/><rect x="2040.59" y="725.22" width="176" height="33.04" fill="#DF0101"/><rect x="2040.59" y="757.26" width="176" height="33.04" fill="#DF0101"/><rect x="2040.59" y="789.3" width="176" height="33.04" fill="#DF0101"/><rect x="2040.59" y="821.34" width="176" height="33.04" fill="#DF0101"/><rect x="2040.59" y="853.38" width="176" height="33.04" fill="#DF0101"/><rect x="2040.59" y="885.42" width="176" height="33.04" fill="#DF0101"/><rect x="2040.59" y="917.46" width="176" height="33.04" fill="#DF0101"/><rect x="2040.59" y="949.5" width="176" height="33.04" fill="#DF0101"/><rect x="2040.59" y="981.54" width="176" height="33.04" fill="#DF0101"/><rect x="2040.59" y="1013.58" width="176" height="33.04" fill="#DF0101"/><rect x="2040.59" y="1045.62" width="176" height="33.04" fill="#DF0101"/><rect x="2040.59" y="1077.66" width="176" height="33.04" fill="#DF0101"/><rect x="2040.59" y="1109.7" width="176" height="33.04" fill="#DF0101"/><rect x="2040.59" y="1141.74" width="176" height="33.04" fill="#DF0101"/><rect x="2040.59" y="1173.78" width="176" height="33.04" fill="#DF0101"/><rect x="2040.59" y="1205.82" width="176" height="33.04" fill="#DF0101"/><rect x="2040.59" y="1237.86" width="176" height="33.04" fill="#DF0101"/><rect x="2040.59" y="1269.9" width="176" height="33.04" fill="#DF0101"/><rect x="2040.59" y="1301.94" width="176" height="33.04" fill="#DF0101"/><rect x="2040.59" y="1333.98" width="176" height="33.04" fill="#DF0101"/><rect x="2040.59" y="1366.02" width="176" height="33.04" fill="#DF0101"/><rect x="2040.59" y="1398.06" width="176" height="33.04" fill="#DF0101"/><rect x="2040.59" y="1430.1" width="176" height="33.04" fill="#DF0101"/><rect x="2040.59" y="1462.14" width="93.46" height="32.04" fill="#DF0101"/><rect x="2134.05" y="1462.14" width="82.54" height="32.04" fill="#9999FF"/><rect x="2040.59" y="180" width="176" height="1" fill="#fff" fill-opacity="0.12"/><rect x="2040.59" y="212" width="176" height="1" fill="#fff" fill-opacity="0.12"/><rect x="2040.59" y="244" width="176" height="1" fill="#fff" fill-opacity="0.12"/><rect x="2040.59" y="276" width="176" height="1" fill="#fff" fill-opacity="0.12"/><rect x="2040.59" y="308" width="176" height="1" fill="#fff" fill-opacity="0.12"/><rect x="2040.59" y="340" width="176" height="1" fill="#fff" fill-opacity="0.12"/><rect x="2040.59" y="372" width="176" height="1" fill="#fff" fill-opacity="0.12"/><rect x="2040.59" y="404" width="176" height="1" fill="#fff" fill-opacity="0.12"/><rect x="2040.59" y="436" width="176" height="1" fill="#fff" fill-opacity="0.12"/><rect x="2040.59" y="468" width="176" height="1" fill="#fff" fill-opacity="0.12"/><rect x="2040.59" y="500" width="176" height="1" fill="#fff" fill-opacity="0.12"/><rect x="2040.59" y="532" width="176" height="1" fill="#fff" fill-opacity="0.12"/><rect x="2040.59" y="564" width="176" height="1" fill="#fff" fill-opacity="0.12"/><rect x="2040.59" y="596" width="176" height="1" fill="#fff" fill-opacity="0.12"/><rect x="2040.59" y="628" width="176" height="1" fill="#fff" fill-opacity="0.12"/><rect x="2040.59" y="660" width="176" height="1" fill="#fff" fill-opacity="0.12"/><rect x="2040.59" y="692" width="176" height="1" fill="#fff" fill-opacity="0.12"/><rect x="2040.59" y="724" width="176" height="1" fill="#fff" fill-opacity="0.12"/><rect x="2040.59" y="756" width="176" height="1" fill="#fff" fill-opacity="0.12"/><rect x="2040.59" y="789" width="176" height="1" fill="#fff" fill-opacity="0.12"/><rect x="2040.59" y="821" width="176" height="1" fill="#fff" fill-opacity="0.12"/><rect x="2040.59" y="853" width="176" height="1" fill="#fff" fill-opacity="0.12"/><rect x="2040.59" y="885" width="176" height="1" fill="#fff" fill-opacity="0.12"/><rect x="2040.59" y="917" width="176" height="1" fill="#fff" fill-opacity="0.12"/><rect x="2040.59" y="949" width="176" height="1" fill="#fff" fill-opacity="0.12"/><rect x="2040.59" y="981" width="176" height="1" fill="#fff" fill-opacity="0.12"/><rect x="2040.59" y="1013" width="176" height="1" fill="#fff" fill-opacity="0.12"/><rect x="2040.59" y="1045" width="176" height="1" fill="#fff" fill-opacity="0.12"/><rect x="2040.59" y="1077" width="176" height="1" fill="#fff" fill-opacity="0.12"/><rect x="2040.59" y="1109" width="176" height="1" fill="#fff" fill-opacity="0.12"/><rect x="2040.59" y="1141" width="176" height="1" fill="#fff" fill-opacity="0.12"/><rect x="2040.59" y="1173" width="176" height="1" fill="#fff" fill-opacity="0.12"/><rect x="2040.59" y="1205" width="176" height="1" fill="#fff" fill-opacity="0.12"/><rect x="2040.59" y="1237" width="176" height="1" fill="#fff" fill-opacity="0.12"/><rect x="2040.59" y="1269" width="176" height="1" fill="#fff" fill-opacity="0.12"/><rect x="2040.59" y="1301" width="176" height="1" fill="#fff" fill-opacity="0.12"/><rect x="2040.59" y="1333" width="176" height="1" fill="#fff" fill-opacity="0.12"/><rect x="2040.59" y="1365" width="176" height="1" fill="#fff" fill-opacity="0.12"/><rect x="2040.59" y="1397" width="176" height="1" fill="#fff" fill-opacity="0.12"/><rect x="2040.59" y="1429" width="176" height="1" fill="#fff" fill-opacity="0.12"/><rect x="2040.59" y="1461" width="176" height="1" fill="#fff" fill-opacity="0.12"/></g><text class="l" x="2027.79" y="171.22" text-anchor="end">JFL_2</text><text class="l" x="2027.79" y="203.26" text-anchor="end">JFL_5</text><text class="l" x="2027.79" y="235.3" text-anchor="end">JFL_6</text><text class="l" x="2027.79" y="267.34" text-anchor="end">JFL_7</text><text class="l" x="2027.79" y="299.38" text-anchor="end">JFL_8</text><text class="l" x="2027.79" y="331.42" text-anchor="end">YGL_<tspan class="o">1</tspan></text><text class="l" x="2027.79" y="363.46" text-anchor="end">DLS_<tspan class="o">1</tspan></text><text class="l" x="2027.79" y="395.5" text-anchor="end">DLS_2</text><text class="l" x="2027.79" y="427.54" text-anchor="end">DLS_3</text><text class="l" x="2027.79" y="459.58" text-anchor="end">LMS_<tspan class="o">1</tspan></text><text class="l" x="2027.79" y="491.62" text-anchor="end">LMS_3</text><text class="l" x="2027.79" y="523.66" text-anchor="end">LMS_8</text><text class="l" x="2027.79" y="555.7" text-anchor="end">BWL_<tspan class="o">1</tspan></text><text class="l" x="2027.79" y="587.74" text-anchor="end">BWL_<tspan class="o">1</tspan>0</text><text class="l" x="2027.79" y="619.78" text-anchor="end">BWL_<tspan class="o">1</tspan><tspan class="o">1</tspan></text><text class="l" x="2027.79" y="651.82" text-anchor="end">BWL_<tspan class="o">1</tspan>2</text><text class="l" x="2027.79" y="683.86" text-anchor="end">BWL_<tspan class="o">1</tspan>3</text><text class="l" x="2027.79" y="715.9" text-anchor="end">BWL_2</text><text class="l" x="2027.79" y="747.94" text-anchor="end">BWL_3</text><text class="l" x="2027.79" y="779.98" text-anchor="end">BWL_4</text><text class="l" x="2027.79" y="812.02" text-anchor="end">BWL_5</text><text class="l" x="2027.79" y="844.06" text-anchor="end">BWL_6</text><text class="l" x="2027.79" y="876.1" text-anchor="end">BWL_7</text><text class="l" x="2027.79" y="908.14" text-anchor="end">BWL_8</text><text class="l" x="2027.79" y="940.18" text-anchor="end">BWL_9</text><text class="l" x="2027.79" y="972.22" text-anchor="end">JFL_<tspan class="o">1</tspan></text><text class="l" x="2027.79" y="1004.26" text-anchor="end">JFL_<tspan class="o">1</tspan>0</text><text class="l" x="2027.79" y="1036.3" text-anchor="end">JFL_3</text><text class="l" x="2027.79" y="1068.34" text-anchor="end">JFL_4</text><text class="l" x="2027.79" y="1100.38" text-anchor="end">JFL_9</text><text class="l" x="2027.79" y="1132.42" text-anchor="end">LMS_<tspan class="o">1</tspan>0</text><text class="l" x="2027.79" y="1164.46" text-anchor="end">LMS_2</text><text class="l" x="2027.79" y="1196.5" text-anchor="end">LMS_4</text><text class="l" x="2027.79" y="1228.54" text-anchor="end">LMS_5</text><text class="l" x="2027.79" y="1260.58" text-anchor="end">LMS_6</text><text class="l" x="2027.79" y="1292.62" text-anchor="end">LMS_7</text><text class="l" x="2027.79" y="1324.66" text-anchor="end">LMS_9</text><text class="l" x="2027.79" y="1356.7" text-anchor="end">WZS_<tspan class="o">1</tspan></text><text class="l" x="2027.79" y="1388.74" text-anchor="end">WZS_2</text><text class="l" x="2027.79" y="1420.78" text-anchor="end">YGL_2</text><text class="l" x="2027.79" y="1452.82" text-anchor="end">YGL_3</text><text class="l" x="2027.79" y="1484.86" text-anchor="end">FY_<tspan class="o">1</tspan></text><text class="k" x="2407.36" y="133.8" text-anchor="middle">K=2</text><g><rect x="2319.36" y="148.5" width="176" height="33.04" fill="#2121D9"/><rect x="2319.36" y="180.54" width="176" height="33.04" fill="#2121D9"/><rect x="2319.36" y="212.58" width="176" height="33.04" fill="#2121D9"/><rect x="2319.36" y="244.62" width="176" height="33.04" fill="#2121D9"/><rect x="2319.36" y="276.66" width="176" height="33.04" fill="#2121D9"/><rect x="2319.36" y="308.7" width="176" height="33.04" fill="#2121D9"/><rect x="2319.36" y="340.74" width="176" height="33.04" fill="#2121D9"/><rect x="2319.36" y="372.78" width="176" height="33.04" fill="#2121D9"/><rect x="2319.36" y="404.82" width="176" height="33.04" fill="#2121D9"/><rect x="2319.36" y="436.86" width="176" height="33.04" fill="#2121D9"/><rect x="2319.36" y="468.9" width="176" height="33.04" fill="#2121D9"/><rect x="2319.36" y="500.94" width="176" height="33.04" fill="#2121D9"/><rect x="2319.36" y="532.98" width="176" height="33.04" fill="#2121D9"/><rect x="2319.36" y="565.02" width="176" height="33.04" fill="#2121D9"/><rect x="2319.36" y="597.06" width="176" height="33.04" fill="#2121D9"/><rect x="2319.36" y="629.1" width="176" height="33.04" fill="#2121D9"/><rect x="2319.36" y="661.14" width="176" height="33.04" fill="#2121D9"/><rect x="2319.36" y="693.18" width="176" height="33.04" fill="#2121D9"/><rect x="2319.36" y="725.22" width="176" height="33.04" fill="#2121D9"/><rect x="2319.36" y="757.26" width="176" height="33.04" fill="#2121D9"/><rect x="2319.36" y="789.3" width="176" height="33.04" fill="#2121D9"/><rect x="2319.36" y="821.34" width="176" height="33.04" fill="#2121D9"/><rect x="2319.36" y="853.38" width="176" height="33.04" fill="#2121D9"/><rect x="2319.36" y="885.42" width="176" height="33.04" fill="#2121D9"/><rect x="2319.36" y="917.46" width="176" height="33.04" fill="#2121D9"/><rect x="2319.36" y="949.5" width="176" height="33.04" fill="#2121D9"/><rect x="2319.36" y="981.54" width="176" height="33.04" fill="#2121D9"/><rect x="2319.36" y="1013.58" width="176" height="33.04" fill="#2121D9"/><rect x="2319.36" y="1045.62" width="176" height="33.04" fill="#2121D9"/><rect x="2319.36" y="1077.66" width="60.54" height="33.04" fill="#9999FF"/><rect x="2379.9" y="1077.66" width="115.46" height="33.04" fill="#2121D9"/><rect x="2319.36" y="1109.7" width="176" height="33.04" fill="#9999FF"/><rect x="2319.36" y="1141.74" width="176" height="33.04" fill="#9999FF"/><rect x="2319.36" y="1173.78" width="176" height="33.04" fill="#9999FF"/><rect x="2319.36" y="1205.82" width="176" height="33.04" fill="#9999FF"/><rect x="2319.36" y="1237.86" width="176" height="33.04" fill="#9999FF"/><rect x="2319.36" y="1269.9" width="176" height="33.04" fill="#9999FF"/><rect x="2319.36" y="1301.94" width="147.31" height="33.04" fill="#9999FF"/><rect x="2466.67" y="1301.94" width="28.69" height="33.04" fill="#2121D9"/><rect x="2319.36" y="1333.98" width="147.31" height="33.04" fill="#9999FF"/><rect x="2466.67" y="1333.98" width="28.69" height="33.04" fill="#2121D9"/><rect x="2319.36" y="1366.02" width="145.9" height="33.04" fill="#9999FF"/><rect x="2465.26" y="1366.02" width="30.1" height="33.04" fill="#2121D9"/><rect x="2319.36" y="1398.06" width="122.5" height="33.04" fill="#9999FF"/><rect x="2441.86" y="1398.06" width="53.5" height="33.04" fill="#2121D9"/><rect x="2319.36" y="1430.1" width="117.92" height="33.04" fill="#9999FF"/><rect x="2437.28" y="1430.1" width="58.08" height="33.04" fill="#2121D9"/><rect x="2319.36" y="1462.14" width="116.34" height="32.04" fill="#9999FF"/><rect x="2435.7" y="1462.14" width="59.66" height="32.04" fill="#2121D9"/><rect x="2319.36" y="180" width="176" height="1" fill="#fff" fill-opacity="0.12"/><rect x="2319.36" y="212" width="176" height="1" fill="#fff" fill-opacity="0.12"/><rect x="2319.36" y="244" width="176" height="1" fill="#fff" fill-opacity="0.12"/><rect x="2319.36" y="276" width="176" height="1" fill="#fff" fill-opacity="0.12"/><rect x="2319.36" y="308" width="176" height="1" fill="#fff" fill-opacity="0.12"/><rect x="2319.36" y="340" width="176" height="1" fill="#fff" fill-opacity="0.12"/><rect x="2319.36" y="372" width="176" height="1" fill="#fff" fill-opacity="0.12"/><rect x="2319.36" y="404" width="176" height="1" fill="#fff" fill-opacity="0.12"/><rect x="2319.36" y="436" width="176" height="1" fill="#fff" fill-opacity="0.12"/><rect x="2319.36" y="468" width="176" height="1" fill="#fff" fill-opacity="0.12"/><rect x="2319.36" y="500" width="176" height="1" fill="#fff" fill-opacity="0.12"/><rect x="2319.36" y="532" width="176" height="1" fill="#fff" fill-opacity="0.12"/><rect x="2319.36" y="564" width="176" height="1" fill="#fff" fill-opacity="0.12"/><rect x="2319.36" y="596" width="176" height="1" fill="#fff" fill-opacity="0.12"/><rect x="2319.36" y="628" width="176" height="1" fill="#fff" fill-opacity="0.12"/><rect x="2319.36" y="660" width="176" height="1" fill="#fff" fill-opacity="0.12"/><rect x="2319.36" y="692" width="176" height="1" fill="#fff" fill-opacity="0.12"/><rect x="2319.36" y="724" width="176" height="1" fill="#fff" fill-opacity="0.12"/><rect x="2319.36" y="756" width="176" height="1" fill="#fff" fill-opacity="0.12"/><rect x="2319.36" y="789" width="176" height="1" fill="#fff" fill-opacity="0.12"/><rect x="2319.36" y="821" width="176" height="1" fill="#fff" fill-opacity="0.12"/><rect x="2319.36" y="853" width="176" height="1" fill="#fff" fill-opacity="0.12"/><rect x="2319.36" y="885" width="176" height="1" fill="#fff" fill-opacity="0.12"/><rect x="2319.36" y="917" width="176" height="1" fill="#fff" fill-opacity="0.12"/><rect x="2319.36" y="949" width="176" height="1" fill="#fff" fill-opacity="0.12"/><rect x="2319.36" y="981" width="176" height="1" fill="#fff" fill-opacity="0.12"/><rect x="2319.36" y="1013" width="176" height="1" fill="#fff" fill-opacity="0.12"/><rect x="2319.36" y="1045" width="176" height="1" fill="#fff" fill-opacity="0.12"/><rect x="2319.36" y="1077" width="176" height="1" fill="#fff" fill-opacity="0.12"/><rect x="2319.36" y="1109" width="176" height="1" fill="#fff" fill-opacity="0.12"/><rect x="2319.36" y="1141" width="176" height="1" fill="#fff" fill-opacity="0.12"/><rect x="2319.36" y="1173" width="176" height="1" fill="#fff" fill-opacity="0.12"/><rect x="2319.36" y="1205" width="176" height="1" fill="#fff" fill-opacity="0.12"/><rect x="2319.36" y="1237" width="176" height="1" fill="#fff" fill-opacity="0.12"/><rect x="2319.36" y="1269" width="176" height="1" fill="#fff" fill-opacity="0.12"/><rect x="2319.36" y="1301" width="176" height="1" fill="#fff" fill-opacity="0.12"/><rect x="2319.36" y="1333" width="176" height="1" fill="#fff" fill-opacity="0.12"/><rect x="2319.36" y="1365" width="176" height="1" fill="#fff" fill-opacity="0.12"/><rect x="2319.36" y="1397" width="176" height="1" fill="#fff" fill-opacity="0.12"/><rect x="2319.36" y="1429" width="176" height="1" fill="#fff" fill-opacity="0.12"/><rect x="2319.36" y="1461" width="176" height="1" fill="#fff" fill-opacity="0.12"/></g><text class="l" x="2306.56" y="171.22" text-anchor="end">BWL_<tspan class="o">1</tspan></text><text class="l" x="2306.56" y="203.26" text-anchor="end">BWL_<tspan class="o">1</tspan>0</text><text class="l" x="2306.56" y="235.3" text-anchor="end">BWL_<tspan class="o">1</tspan><tspan class="o">1</tspan></text><text class="l" x="2306.56" y="267.34" text-anchor="end">BWL_<tspan class="o">1</tspan>2</text><text class="l" x="2306.56" y="299.38" text-anchor="end">BWL_<tspan class="o">1</tspan>3</text><text class="l" x="2306.56" y="331.42" text-anchor="end">BWL_2</text><text class="l" x="2306.56" y="363.46" text-anchor="end">BWL_3</text><text class="l" x="2306.56" y="395.5" text-anchor="end">BWL_4</text><text class="l" x="2306.56" y="427.54" text-anchor="end">BWL_5</text><text class="l" x="2306.56" y="459.58" text-anchor="end">BWL_6</text><text class="l" x="2306.56" y="491.62" text-anchor="end">BWL_7</text><text class="l" x="2306.56" y="523.66" text-anchor="end">BWL_8</text><text class="l" x="2306.56" y="555.7" text-anchor="end">BWL_9</text><text class="l" x="2306.56" y="587.74" text-anchor="end">JFL_<tspan class="o">1</tspan></text><text class="l" x="2306.56" y="619.78" text-anchor="end">JFL_<tspan class="o">1</tspan>0</text><text class="l" x="2306.56" y="651.82" text-anchor="end">JFL_3</text><text class="l" x="2306.56" y="683.86" text-anchor="end">JFL_4</text><text class="l" x="2306.56" y="715.9" text-anchor="end">JFL_9</text><text class="l" x="2306.56" y="747.94" text-anchor="end">LMS_<tspan class="o">1</tspan>0</text><text class="l" x="2306.56" y="779.98" text-anchor="end">LMS_2</text><text class="l" x="2306.56" y="812.02" text-anchor="end">LMS_4</text><text class="l" x="2306.56" y="844.06" text-anchor="end">LMS_5</text><text class="l" x="2306.56" y="876.1" text-anchor="end">LMS_6</text><text class="l" x="2306.56" y="908.14" text-anchor="end">LMS_7</text><text class="l" x="2306.56" y="940.18" text-anchor="end">LMS_9</text><text class="l" x="2306.56" y="972.22" text-anchor="end">WZS_<tspan class="o">1</tspan></text><text class="l" x="2306.56" y="1004.26" text-anchor="end">WZS_2</text><text class="l" x="2306.56" y="1036.3" text-anchor="end">YGL_2</text><text class="l" x="2306.56" y="1068.34" text-anchor="end">YGL_3</text><text class="l" x="2306.56" y="1100.38" text-anchor="end">FY_<tspan class="o">1</tspan></text><text class="l" x="2306.56" y="1132.42" text-anchor="end">JFL_2</text><text class="l" x="2306.56" y="1164.46" text-anchor="end">JFL_5</text><text class="l" x="2306.56" y="1196.5" text-anchor="end">JFL_6</text><text class="l" x="2306.56" y="1228.54" text-anchor="end">JFL_7</text><text class="l" x="2306.56" y="1260.58" text-anchor="end">JFL_8</text><text class="l" x="2306.56" y="1292.62" text-anchor="end">YGL_<tspan class="o">1</tspan></text><text class="l" x="2306.56" y="1324.66" text-anchor="end">DLS_2</text><text class="l" x="2306.56" y="1356.7" text-anchor="end">DLS_<tspan class="o">1</tspan></text><text class="l" x="2306.56" y="1388.74" text-anchor="end">DLS_3</text><text class="l" x="2306.56" y="1420.78" text-anchor="end">LMS_3</text><text class="l" x="2306.56" y="1452.82" text-anchor="end">LMS_<tspan class="o">1</tspan></text><text class="l" x="2306.56" y="1484.86" text-anchor="end">LMS_8</text></svg></body></html>
